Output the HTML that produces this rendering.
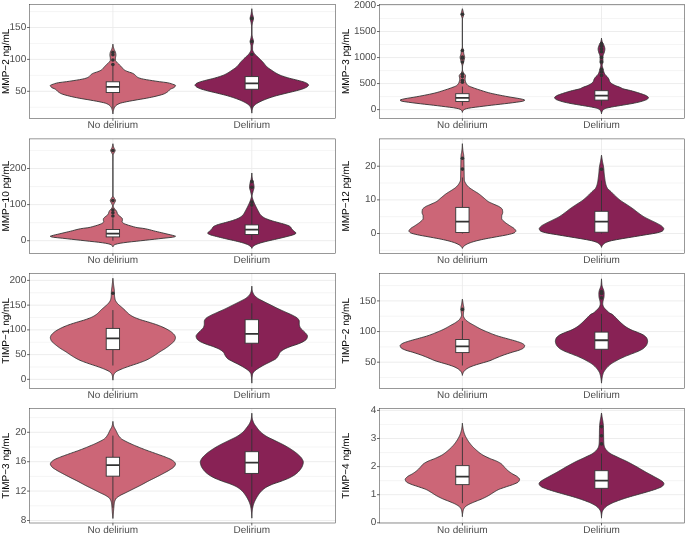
<!DOCTYPE html>
<html lang="en">
<head>
<meta charset="utf-8">
<title>MMP and TIMP levels by delirium status</title>
<style>
html,body{margin:0;padding:0;background:#fff;}
body{width:685px;height:536px;overflow:hidden;}
svg{display:block;font-family:"Liberation Sans",sans-serif;font-size:10px;}
.g{stroke:#EBEBEB;stroke-width:0.9}
.m{stroke:#EBEBEB;stroke-width:0.5}
.v{stroke:#333;stroke-width:0.9;stroke-linejoin:round}
.w{stroke:#333;stroke-width:0.9}
.md{stroke:#333;stroke-width:1.8}
.b{stroke:#333;stroke-width:0.5}
.t{stroke:#333;stroke-width:0.75}
.o{fill:#333}
.a{fill:#4D4D4D}
svg{will-change:transform}
text{text-rendering:geometricPrecision}
</style>
</head>
<body>
<svg width="685" height="536" viewBox="0 0 685 536">
<rect x="0" y="0" width="685" height="536" fill="#ffffff"/>
<!-- panel A -->
<rect x="29.56" y="4.4" width="305.94" height="113.9" fill="#fff"/>
<line class="m" x1="29.56" y1="107.25" x2="335.5" y2="107.25"/>
<line class="m" x1="29.56" y1="75.35" x2="335.5" y2="75.35"/>
<line class="m" x1="29.56" y1="43.45" x2="335.5" y2="43.45"/>
<line class="m" x1="29.56" y1="11.55" x2="335.5" y2="11.55"/>
<line class="g" x1="29.56" y1="91.3" x2="335.5" y2="91.3"/>
<line class="g" x1="29.56" y1="59.4" x2="335.5" y2="59.4"/>
<line class="g" x1="29.56" y1="27.5" x2="335.5" y2="27.5"/>
<line class="g" x1="112.9" y1="4.4" x2="112.9" y2="118.3"/>
<line class="g" x1="251.8" y1="4.4" x2="251.8" y2="118.3"/>
<clipPath id="c00"><rect x="29.56" y="4.4" width="305.94" height="113.9"/></clipPath>
<g clip-path="url(#c00)">
<path class="v" d="M112.9 44.18 L112.84 44.68 L112.77 45.18 L112.68 45.68 L112.58 46.18 L112.47 46.68 L112.35 47.18 L112.22 47.68 L112.08 48.18 L111.94 48.68 L111.78 49.18 L111.58 49.68 L111.33 50.18 L111.06 50.68 L110.8 51.18 L110.55 51.68 L110.35 52.18 L110.21 52.68 L110.12 53.18 L110.03 53.68 L109.96 54.18 L109.92 54.68 L109.92 55.18 L109.96 55.68 L110.03 56.18 L110.12 56.68 L110.21 57.18 L110.29 57.68 L110.34 58.18 L110.36 58.68 L110.36 59.18 L110.35 59.68 L110.34 60.18 L110.29 60.68 L110 61.18 L109.53 61.68 L109 62.18 L108.53 62.68 L108.06 63.18 L107.55 63.68 L107.03 64.18 L106.52 64.68 L106.01 65.18 L105.5 65.68 L104.98 66.18 L104.49 66.68 L104.04 67.18 L103.66 67.68 L103.3 68.18 L102.9 68.68 L102.42 69.18 L101.81 69.68 L101.07 70.18 L100.21 70.68 L99.11 71.18 L97.84 71.68 L96.42 72.18 L94.78 72.68 L93.46 73.18 L92.38 73.68 L91.61 74.18 L91.05 74.68 L90.55 75.18 L90.03 75.68 L89.56 76.18 L89.04 76.68 L88.34 77.18 L87.35 77.68 L86.09 78.18 L84.39 78.68 L82.11 79.18 L79.49 79.68 L76.35 80.18 L73.12 80.68 L69.85 81.18 L66.41 81.68 L62.34 82.18 L58.52 82.68 L56.27 83.18 L54.6 83.68 L53.2 84.18 L51.74 84.68 L50.52 85.18 L50.23 85.68 L50.44 86.18 L50.86 86.68 L51.39 87.18 L52.01 87.68 L53.06 88.18 L54.28 88.68 L55.32 89.18 L56.01 89.68 L56.56 90.18 L57.05 90.68 L57.54 91.18 L58.09 91.68 L58.75 92.18 L59.48 92.68 L60.31 93.18 L61.29 93.68 L62.53 94.18 L64.08 94.68 L65.84 95.18 L67.74 95.68 L69.7 96.18 L71.84 96.68 L74.15 97.18 L76.6 97.68 L79.16 98.18 L81.92 98.68 L84.9 99.18 L87.91 99.68 L90.77 100.18 L93.61 100.68 L96.39 101.18 L98.97 101.68 L101.31 102.18 L103.57 102.68 L105.47 103.18 L106.76 103.68 L107.79 104.18 L108.66 104.68 L109.37 105.18 L109.92 105.68 L110.38 106.18 L110.78 106.68 L111.13 107.18 L111.43 107.68 L111.68 108.18 L111.86 108.68 L112.02 109.18 L112.17 109.68 L112.32 110.18 L112.45 110.68 L112.57 111.18 L112.67 111.68 L112.76 112.18 L112.83 112.68 L112.87 113.18 L112.9 113.68 L112.9 113.88 L112.9 113.88 L112.9 113.68 L112.93 113.18 L112.97 112.68 L113.04 112.18 L113.13 111.68 L113.23 111.18 L113.35 110.68 L113.48 110.18 L113.63 109.68 L113.78 109.18 L113.94 108.68 L114.12 108.18 L114.37 107.68 L114.67 107.18 L115.02 106.68 L115.42 106.18 L115.88 105.68 L116.43 105.18 L117.14 104.68 L118.01 104.18 L119.04 103.68 L120.33 103.18 L122.23 102.68 L124.49 102.18 L126.83 101.68 L129.41 101.18 L132.19 100.68 L135.03 100.18 L137.89 99.68 L140.9 99.18 L143.88 98.68 L146.64 98.18 L149.2 97.68 L151.65 97.18 L153.96 96.68 L156.1 96.18 L158.06 95.68 L159.96 95.18 L161.72 94.68 L163.27 94.18 L164.51 93.68 L165.49 93.18 L166.32 92.68 L167.05 92.18 L167.71 91.68 L168.26 91.18 L168.75 90.68 L169.24 90.18 L169.79 89.68 L170.48 89.18 L171.52 88.68 L172.74 88.18 L173.79 87.68 L174.41 87.18 L174.94 86.68 L175.36 86.18 L175.57 85.68 L175.28 85.18 L174.06 84.68 L172.6 84.18 L171.2 83.68 L169.53 83.18 L167.28 82.68 L163.46 82.18 L159.39 81.68 L155.95 81.18 L152.68 80.68 L149.45 80.18 L146.31 79.68 L143.69 79.18 L141.41 78.68 L139.71 78.18 L138.45 77.68 L137.46 77.18 L136.76 76.68 L136.24 76.18 L135.77 75.68 L135.25 75.18 L134.75 74.68 L134.19 74.18 L133.42 73.68 L132.34 73.18 L131.02 72.68 L129.38 72.18 L127.96 71.68 L126.69 71.18 L125.59 70.68 L124.73 70.18 L123.99 69.68 L123.38 69.18 L122.9 68.68 L122.5 68.18 L122.14 67.68 L121.76 67.18 L121.31 66.68 L120.82 66.18 L120.3 65.68 L119.79 65.18 L119.28 64.68 L118.77 64.18 L118.25 63.68 L117.74 63.18 L117.27 62.68 L116.8 62.18 L116.27 61.68 L115.8 61.18 L115.51 60.68 L115.46 60.18 L115.45 59.68 L115.44 59.18 L115.44 58.68 L115.46 58.18 L115.51 57.68 L115.59 57.18 L115.68 56.68 L115.77 56.18 L115.84 55.68 L115.88 55.18 L115.88 54.68 L115.84 54.18 L115.77 53.68 L115.68 53.18 L115.59 52.68 L115.45 52.18 L115.25 51.68 L115 51.18 L114.74 50.68 L114.47 50.18 L114.22 49.68 L114.02 49.18 L113.86 48.68 L113.72 48.18 L113.58 47.68 L113.45 47.18 L113.33 46.68 L113.22 46.18 L113.12 45.68 L113.03 45.18 L112.96 44.68 L112.9 44.18 Z" fill="#CC6677"/>
<path class="v" d="M251.8 8.72 L251.76 9.22 L251.72 9.72 L251.67 10.22 L251.61 10.72 L251.55 11.22 L251.48 11.72 L251.42 12.22 L251.34 12.72 L251.27 13.22 L251.19 13.72 L251.09 14.22 L250.97 14.72 L250.83 15.22 L250.68 15.72 L250.53 16.22 L250.4 16.72 L250.29 17.22 L250.21 17.72 L250.16 18.22 L250.17 18.72 L250.22 19.22 L250.31 19.72 L250.43 20.22 L250.57 20.72 L250.72 21.22 L250.86 21.72 L251 22.22 L251.12 22.72 L251.21 23.22 L251.28 23.72 L251.35 24.22 L251.43 24.72 L251.49 25.22 L251.54 25.72 L251.57 26.22 L251.58 26.72 L251.58 27.22 L251.58 27.72 L251.58 28.22 L251.58 28.72 L251.58 29.22 L251.58 29.72 L251.58 30.22 L251.58 30.72 L251.58 31.22 L251.58 31.72 L251.58 32.22 L251.58 32.72 L251.58 33.22 L251.58 33.72 L251.57 34.22 L251.55 34.72 L251.5 35.22 L251.43 35.72 L251.35 36.22 L251.26 36.72 L251.18 37.22 L251.07 37.72 L250.93 38.22 L250.78 38.72 L250.62 39.22 L250.47 39.72 L250.34 40.22 L250.23 40.72 L250.17 41.22 L250.16 41.72 L250.21 42.22 L250.3 42.72 L250.42 43.22 L250.56 43.72 L250.71 44.22 L250.84 44.72 L250.95 45.22 L251.03 45.72 L251.05 46.22 L251.05 46.72 L251.05 47.22 L251.05 47.72 L251.05 48.22 L251.05 48.72 L251.05 49.22 L251.04 49.72 L250.96 50.22 L250.81 50.72 L250.6 51.22 L250.34 51.72 L250.06 52.22 L249.75 52.72 L249.43 53.22 L249.11 53.72 L248.72 54.22 L248.25 54.72 L247.73 55.22 L247.18 55.72 L246.61 56.22 L246.06 56.72 L245.54 57.22 L245.04 57.72 L244.53 58.22 L244.01 58.72 L243.5 59.22 L242.99 59.72 L242.49 60.22 L241.99 60.72 L241.51 61.22 L241.04 61.72 L240.59 62.22 L240.17 62.72 L239.77 63.22 L239.38 63.72 L238.99 64.22 L238.6 64.72 L238.19 65.22 L237.76 65.72 L237.29 66.22 L236.8 66.72 L236.25 67.22 L235.63 67.72 L234.95 68.22 L234.24 68.72 L233.49 69.22 L232.74 69.72 L231.99 70.22 L231.27 70.72 L230.56 71.22 L229.83 71.72 L229.03 72.22 L228.23 72.72 L227.39 73.22 L226.5 73.72 L225.55 74.22 L224.53 74.72 L223.41 75.22 L222.15 75.72 L220.75 76.22 L219.24 76.72 L217.64 77.22 L215.96 77.72 L214.23 78.22 L212.3 78.72 L210.22 79.22 L208.13 79.72 L206.14 80.22 L204.25 80.72 L202.36 81.22 L200.62 81.72 L199.17 82.22 L197.95 82.72 L196.85 83.22 L196.01 83.72 L195.54 84.22 L195.22 84.72 L195.08 85.22 L195.28 85.72 L195.75 86.22 L196.3 86.72 L197.06 87.22 L198.04 87.72 L199.16 88.22 L200.39 88.72 L201.87 89.22 L203.55 89.72 L205.36 90.22 L207.21 90.72 L209.13 91.22 L211.18 91.72 L213.3 92.22 L215.43 92.72 L217.5 93.22 L219.52 93.72 L221.55 94.22 L223.55 94.72 L225.5 95.22 L227.34 95.72 L229.05 96.22 L230.68 96.72 L232.25 97.22 L233.75 97.72 L235.18 98.22 L236.55 98.72 L237.85 99.22 L239.11 99.72 L240.33 100.22 L241.5 100.72 L242.61 101.22 L243.64 101.72 L244.6 102.22 L245.49 102.72 L246.36 103.22 L247.18 103.72 L247.93 104.22 L248.58 104.72 L249.11 105.22 L249.55 105.72 L249.96 106.22 L250.32 106.72 L250.62 107.22 L250.84 107.72 L250.99 108.22 L251.13 108.72 L251.26 109.22 L251.38 109.72 L251.48 110.22 L251.58 110.72 L251.66 111.22 L251.72 111.72 L251.77 112.22 L251.79 112.72 L251.8 113.13 L251.8 113.13 L251.81 112.72 L251.83 112.22 L251.88 111.72 L251.94 111.22 L252.02 110.72 L252.12 110.22 L252.22 109.72 L252.34 109.22 L252.47 108.72 L252.61 108.22 L252.76 107.72 L252.98 107.22 L253.28 106.72 L253.64 106.22 L254.05 105.72 L254.49 105.22 L255.02 104.72 L255.67 104.22 L256.42 103.72 L257.24 103.22 L258.11 102.72 L259 102.22 L259.96 101.72 L260.99 101.22 L262.1 100.72 L263.27 100.22 L264.49 99.72 L265.75 99.22 L267.05 98.72 L268.42 98.22 L269.85 97.72 L271.35 97.22 L272.92 96.72 L274.55 96.22 L276.26 95.72 L278.1 95.22 L280.05 94.72 L282.05 94.22 L284.08 93.72 L286.1 93.22 L288.17 92.72 L290.3 92.22 L292.42 91.72 L294.47 91.22 L296.39 90.72 L298.24 90.22 L300.05 89.72 L301.73 89.22 L303.21 88.72 L304.44 88.22 L305.56 87.72 L306.54 87.22 L307.3 86.72 L307.85 86.22 L308.32 85.72 L308.52 85.22 L308.38 84.72 L308.06 84.22 L307.59 83.72 L306.75 83.22 L305.65 82.72 L304.43 82.22 L302.98 81.72 L301.24 81.22 L299.35 80.72 L297.46 80.22 L295.47 79.72 L293.38 79.22 L291.3 78.72 L289.37 78.22 L287.64 77.72 L285.96 77.22 L284.36 76.72 L282.85 76.22 L281.45 75.72 L280.19 75.22 L279.07 74.72 L278.05 74.22 L277.1 73.72 L276.21 73.22 L275.37 72.72 L274.57 72.22 L273.77 71.72 L273.04 71.22 L272.33 70.72 L271.61 70.22 L270.86 69.72 L270.11 69.22 L269.36 68.72 L268.65 68.22 L267.97 67.72 L267.35 67.22 L266.8 66.72 L266.31 66.22 L265.84 65.72 L265.41 65.22 L265 64.72 L264.61 64.22 L264.22 63.72 L263.83 63.22 L263.43 62.72 L263.01 62.22 L262.56 61.72 L262.09 61.22 L261.61 60.72 L261.11 60.22 L260.61 59.72 L260.1 59.22 L259.59 58.72 L259.07 58.22 L258.56 57.72 L258.06 57.22 L257.54 56.72 L256.99 56.22 L256.42 55.72 L255.87 55.22 L255.35 54.72 L254.88 54.22 L254.49 53.72 L254.17 53.22 L253.85 52.72 L253.54 52.22 L253.26 51.72 L253 51.22 L252.79 50.72 L252.64 50.22 L252.56 49.72 L252.55 49.22 L252.55 48.72 L252.55 48.22 L252.55 47.72 L252.55 47.22 L252.55 46.72 L252.55 46.22 L252.57 45.72 L252.65 45.22 L252.76 44.72 L252.89 44.22 L253.04 43.72 L253.18 43.22 L253.3 42.72 L253.39 42.22 L253.44 41.72 L253.43 41.22 L253.37 40.72 L253.26 40.22 L253.13 39.72 L252.98 39.22 L252.82 38.72 L252.67 38.22 L252.53 37.72 L252.42 37.22 L252.34 36.72 L252.25 36.22 L252.17 35.72 L252.1 35.22 L252.05 34.72 L252.03 34.22 L252.02 33.72 L252.02 33.22 L252.02 32.72 L252.02 32.22 L252.02 31.72 L252.02 31.22 L252.02 30.72 L252.02 30.22 L252.02 29.72 L252.02 29.22 L252.02 28.72 L252.02 28.22 L252.02 27.72 L252.02 27.22 L252.02 26.72 L252.03 26.22 L252.06 25.72 L252.11 25.22 L252.17 24.72 L252.25 24.22 L252.32 23.72 L252.39 23.22 L252.48 22.72 L252.6 22.22 L252.74 21.72 L252.88 21.22 L253.03 20.72 L253.17 20.22 L253.29 19.72 L253.38 19.22 L253.43 18.72 L253.44 18.22 L253.39 17.72 L253.31 17.22 L253.2 16.72 L253.07 16.22 L252.92 15.72 L252.77 15.22 L252.63 14.72 L252.51 14.22 L252.41 13.72 L252.33 13.22 L252.26 12.72 L252.18 12.22 L252.12 11.72 L252.05 11.22 L251.99 10.72 L251.93 10.22 L251.88 9.72 L251.84 9.22 L251.8 8.72 Z" fill="#882255"/>
<circle class="o" cx="112.9" cy="64.5" r="1.8"/>
<circle class="o" cx="112.9" cy="60" r="1.8"/>
<circle class="o" cx="112.9" cy="54.7" r="1.8"/>
<circle class="o" cx="112.9" cy="52.4" r="1.8"/>
<line class="w" x1="112.9" y1="65.5" x2="112.9" y2="81.8"/>
<line class="w" x1="112.9" y1="92.5" x2="112.9" y2="108.5"/>
<rect class="w" x="106.22" y="81.8" width="13.35" height="10.7" fill="#fff"/>
<line class="md" x1="106.22" y1="86.9" x2="119.58" y2="86.9"/>
<circle class="o" cx="251.8" cy="54.5" r="1.8"/>
<circle class="o" cx="251.8" cy="41.55" r="1.8"/>
<circle class="o" cx="251.8" cy="18.4" r="1.8"/>
<line class="w" x1="251.8" y1="57.5" x2="251.8" y2="76.6"/>
<line class="w" x1="251.8" y1="89.25" x2="251.8" y2="108"/>
<rect class="w" x="245.12" y="76.6" width="13.35" height="12.65" fill="#fff"/>
<line class="md" x1="245.12" y1="83.3" x2="258.48" y2="83.3"/>
</g>
<rect class="b" x="29.56" y="4.4" width="305.94" height="113.9" fill="none"/>
<line class="t" x1="27.06" y1="91.3" x2="29.56" y2="91.3"/>
<text class="a" x="26.26" y="93.9" text-anchor="end">50</text>
<line class="t" x1="27.06" y1="59.4" x2="29.56" y2="59.4"/>
<text class="a" x="26.26" y="62" text-anchor="end">100</text>
<line class="t" x1="27.06" y1="27.5" x2="29.56" y2="27.5"/>
<text class="a" x="26.26" y="30.1" text-anchor="end">150</text>
<line class="t" x1="112.9" y1="118.3" x2="112.9" y2="120.8"/>
<text class="a" x="112.9" y="128.2" text-anchor="middle">No delirium</text>
<line class="t" x1="251.8" y1="118.3" x2="251.8" y2="120.8"/>
<text class="a" x="251.8" y="128.2" text-anchor="middle">Delirium</text>
<text transform="translate(8.9 61.35) rotate(-90)" text-anchor="middle" fill="#000">MMP−2 ng/mL</text>
<!-- panel B -->
<rect x="379.5" y="4.4" width="305.1" height="113.9" fill="#fff"/>
<line class="m" x1="379.5" y1="96.59" x2="684.6" y2="96.59"/>
<line class="m" x1="379.5" y1="70.56" x2="684.6" y2="70.56"/>
<line class="m" x1="379.5" y1="44.54" x2="684.6" y2="44.54"/>
<line class="m" x1="379.5" y1="18.51" x2="684.6" y2="18.51"/>
<line class="g" x1="379.5" y1="109.6" x2="684.6" y2="109.6"/>
<line class="g" x1="379.5" y1="83.57" x2="684.6" y2="83.57"/>
<line class="g" x1="379.5" y1="57.55" x2="684.6" y2="57.55"/>
<line class="g" x1="379.5" y1="31.52" x2="684.6" y2="31.52"/>
<line class="g" x1="379.5" y1="5.5" x2="684.6" y2="5.5"/>
<line class="g" x1="462.4" y1="4.4" x2="462.4" y2="118.3"/>
<line class="g" x1="601.5" y1="4.4" x2="601.5" y2="118.3"/>
<clipPath id="c01"><rect x="379.5" y="4.4" width="305.1" height="113.9"/></clipPath>
<g clip-path="url(#c01)">
<path class="v" d="M462.4 8.72 L462.26 9.22 L462.12 9.72 L461.98 10.22 L461.85 10.72 L461.73 11.22 L461.61 11.72 L461.49 12.22 L461.35 12.72 L461.21 13.22 L461.1 13.72 L461.06 14.22 L461.1 14.72 L461.21 15.22 L461.36 15.72 L461.53 16.22 L461.68 16.72 L461.87 17.22 L462.08 17.72 L462.25 18.22 L462.33 18.72 L462.33 19.22 L462.33 19.72 L462.33 20.22 L462.34 20.72 L462.34 21.22 L462.34 21.72 L462.34 22.22 L462.34 22.72 L462.35 23.22 L462.35 23.72 L462.35 24.22 L462.35 24.72 L462.35 25.22 L462.35 25.72 L462.35 26.22 L462.35 26.72 L462.35 27.22 L462.35 27.72 L462.35 28.22 L462.35 28.72 L462.35 29.22 L462.35 29.72 L462.36 30.22 L462.36 30.72 L462.36 31.22 L462.36 31.72 L462.36 32.22 L462.36 32.72 L462.36 33.22 L462.35 33.72 L462.35 34.22 L462.35 34.72 L462.35 35.22 L462.35 35.72 L462.35 36.22 L462.35 36.72 L462.35 37.22 L462.35 37.72 L462.35 38.22 L462.35 38.72 L462.35 39.22 L462.35 39.72 L462.35 40.22 L462.35 40.72 L462.35 41.22 L462.34 41.72 L462.34 42.22 L462.34 42.72 L462.34 43.22 L462.34 43.72 L462.34 44.22 L462.33 44.72 L462.33 45.22 L462.33 45.72 L462.33 46.22 L462.33 46.72 L462.29 47.22 L462.19 47.72 L462.05 48.22 L461.88 48.72 L461.7 49.22 L461.54 49.72 L461.41 50.22 L461.33 50.72 L461.27 51.22 L461.23 51.72 L461.19 52.22 L461.14 52.72 L461.09 53.22 L461.02 53.72 L460.9 54.22 L460.75 54.72 L460.59 55.22 L460.43 55.72 L460.29 56.22 L460.2 56.72 L460.16 57.22 L460.18 57.72 L460.25 58.22 L460.34 58.72 L460.46 59.22 L460.59 59.72 L460.72 60.22 L460.85 60.72 L460.97 61.22 L461.1 61.72 L461.25 62.22 L461.4 62.72 L461.55 63.22 L461.7 63.72 L461.83 64.22 L461.96 64.72 L462.09 65.22 L462.21 65.72 L462.25 66.22 L462.26 66.72 L462.27 67.22 L462.28 67.72 L462.29 68.22 L462.29 68.72 L462.29 69.22 L462.3 69.72 L462.27 70.22 L462.18 70.72 L462.03 71.22 L461.84 71.72 L461.64 72.22 L461.42 72.72 L461.08 73.22 L460.65 73.72 L460.18 74.22 L459.76 74.72 L459.43 75.22 L459.27 75.72 L459.28 76.22 L459.35 76.72 L459.44 77.22 L459.54 77.72 L459.63 78.22 L459.7 78.72 L459.71 79.22 L459.68 79.72 L459.61 80.22 L459.51 80.72 L459.38 81.22 L459.24 81.72 L459.08 82.22 L458.9 82.72 L458.67 83.22 L458.38 83.72 L458.01 84.22 L457.58 84.72 L457.07 85.22 L456.47 85.72 L455.53 86.22 L454.32 86.72 L452.97 87.22 L451.62 87.72 L450.28 88.22 L448.86 88.72 L447.38 89.22 L445.85 89.72 L444.3 90.22 L442.74 90.72 L441.18 91.22 L439.59 91.72 L437.91 92.22 L436.11 92.72 L434.16 93.22 L431.98 93.72 L429.63 94.22 L427.18 94.72 L424.68 95.22 L422.12 95.72 L419.46 96.22 L416.71 96.72 L413.89 97.22 L410.81 97.72 L407.68 98.22 L404.94 98.72 L402.48 99.22 L400.72 99.72 L400.02 100.22 L400.72 100.72 L402.07 101.22 L404.87 101.72 L408.49 102.22 L412.1 102.72 L416.07 103.22 L420.27 103.72 L424.58 104.22 L429.12 104.72 L433.53 105.22 L437.66 105.72 L441.64 106.22 L445.53 106.72 L449.56 107.22 L453.31 107.72 L456.15 108.22 L458.5 108.72 L459.95 109.22 L460.86 109.72 L461.47 110.22 L461.82 110.72 L462.09 111.22 L462.29 111.72 L462.39 112.22 L462.4 112.39 L462.4 112.39 L462.41 112.22 L462.51 111.72 L462.71 111.22 L462.98 110.72 L463.33 110.22 L463.94 109.72 L464.85 109.22 L466.3 108.72 L468.65 108.22 L471.49 107.72 L475.24 107.22 L479.27 106.72 L483.16 106.22 L487.14 105.72 L491.27 105.22 L495.68 104.72 L500.22 104.22 L504.53 103.72 L508.73 103.22 L512.7 102.72 L516.31 102.22 L519.93 101.72 L522.73 101.22 L524.08 100.72 L524.78 100.22 L524.08 99.72 L522.32 99.22 L519.86 98.72 L517.12 98.22 L513.99 97.72 L510.91 97.22 L508.09 96.72 L505.34 96.22 L502.68 95.72 L500.12 95.22 L497.62 94.72 L495.17 94.22 L492.82 93.72 L490.64 93.22 L488.69 92.72 L486.89 92.22 L485.21 91.72 L483.62 91.22 L482.06 90.72 L480.5 90.22 L478.95 89.72 L477.42 89.22 L475.94 88.72 L474.52 88.22 L473.18 87.72 L471.83 87.22 L470.48 86.72 L469.27 86.22 L468.33 85.72 L467.73 85.22 L467.22 84.72 L466.79 84.22 L466.42 83.72 L466.13 83.22 L465.9 82.72 L465.72 82.22 L465.56 81.72 L465.42 81.22 L465.29 80.72 L465.19 80.22 L465.12 79.72 L465.09 79.22 L465.1 78.72 L465.17 78.22 L465.26 77.72 L465.36 77.22 L465.45 76.72 L465.52 76.22 L465.53 75.72 L465.37 75.22 L465.04 74.72 L464.62 74.22 L464.15 73.72 L463.72 73.22 L463.38 72.72 L463.16 72.22 L462.96 71.72 L462.77 71.22 L462.62 70.72 L462.53 70.22 L462.5 69.72 L462.51 69.22 L462.51 68.72 L462.51 68.22 L462.52 67.72 L462.53 67.22 L462.54 66.72 L462.55 66.22 L462.59 65.72 L462.71 65.22 L462.84 64.72 L462.97 64.22 L463.1 63.72 L463.25 63.22 L463.4 62.72 L463.55 62.22 L463.7 61.72 L463.83 61.22 L463.95 60.72 L464.08 60.22 L464.21 59.72 L464.34 59.22 L464.46 58.72 L464.55 58.22 L464.62 57.72 L464.64 57.22 L464.6 56.72 L464.51 56.22 L464.37 55.72 L464.21 55.22 L464.05 54.72 L463.9 54.22 L463.78 53.72 L463.71 53.22 L463.66 52.72 L463.61 52.22 L463.57 51.72 L463.53 51.22 L463.47 50.72 L463.39 50.22 L463.26 49.72 L463.1 49.22 L462.92 48.72 L462.75 48.22 L462.61 47.72 L462.51 47.22 L462.47 46.72 L462.47 46.22 L462.47 45.72 L462.47 45.22 L462.47 44.72 L462.46 44.22 L462.46 43.72 L462.46 43.22 L462.46 42.72 L462.46 42.22 L462.46 41.72 L462.45 41.22 L462.45 40.72 L462.45 40.22 L462.45 39.72 L462.45 39.22 L462.45 38.72 L462.45 38.22 L462.45 37.72 L462.45 37.22 L462.45 36.72 L462.45 36.22 L462.45 35.72 L462.45 35.22 L462.45 34.72 L462.45 34.22 L462.45 33.72 L462.44 33.22 L462.44 32.72 L462.44 32.22 L462.44 31.72 L462.44 31.22 L462.44 30.72 L462.44 30.22 L462.45 29.72 L462.45 29.22 L462.45 28.72 L462.45 28.22 L462.45 27.72 L462.45 27.22 L462.45 26.72 L462.45 26.22 L462.45 25.72 L462.45 25.22 L462.45 24.72 L462.45 24.22 L462.45 23.72 L462.45 23.22 L462.46 22.72 L462.46 22.22 L462.46 21.72 L462.46 21.22 L462.46 20.72 L462.47 20.22 L462.47 19.72 L462.47 19.22 L462.47 18.72 L462.55 18.22 L462.72 17.72 L462.93 17.22 L463.12 16.72 L463.27 16.22 L463.44 15.72 L463.59 15.22 L463.7 14.72 L463.74 14.22 L463.7 13.72 L463.59 13.22 L463.45 12.72 L463.31 12.22 L463.19 11.72 L463.07 11.22 L462.95 10.72 L462.82 10.22 L462.68 9.72 L462.54 9.22 L462.4 8.72 Z" fill="#CC6677"/>
<path class="v" d="M601.5 38.06 L601.48 38.56 L601.42 39.06 L601.35 39.56 L601.25 40.06 L601.14 40.56 L601.01 41.06 L600.88 41.56 L600.73 42.06 L600.51 42.56 L600.24 43.06 L599.94 43.56 L599.65 44.06 L599.38 44.56 L599.17 45.06 L598.99 45.56 L598.81 46.06 L598.64 46.56 L598.48 47.06 L598.34 47.56 L598.23 48.06 L598.16 48.56 L598.14 49.06 L598.16 49.56 L598.21 50.06 L598.29 50.56 L598.39 51.06 L598.5 51.56 L598.62 52.06 L598.75 52.56 L598.93 53.06 L599.16 53.56 L599.41 54.06 L599.63 54.56 L599.79 55.06 L599.89 55.56 L599.97 56.06 L600.05 56.56 L600.11 57.06 L600.15 57.56 L600.16 58.06 L600.15 58.56 L600.14 59.06 L600.12 59.56 L600.1 60.06 L600.08 60.56 L600.06 61.06 L600.05 61.56 L600.05 62.06 L600.12 62.56 L600.26 63.06 L600.43 63.56 L600.6 64.06 L600.74 64.56 L600.82 65.06 L600.82 65.56 L600.75 66.06 L600.65 66.56 L600.51 67.06 L600.36 67.56 L600.2 68.06 L600.06 68.56 L599.94 69.06 L599.82 69.56 L599.7 70.06 L599.57 70.56 L599.44 71.06 L599.29 71.56 L599.12 72.06 L598.94 72.56 L598.73 73.06 L598.5 73.56 L598.24 74.06 L597.95 74.56 L597.6 75.06 L597.11 75.56 L596.55 76.06 L596 76.56 L595.54 77.06 L595.16 77.56 L594.8 78.06 L594.48 78.56 L594.21 79.06 L593.99 79.56 L593.83 80.06 L593.69 80.56 L593.52 81.06 L593.3 81.56 L592.96 82.06 L592.5 82.56 L591.96 83.06 L591.33 83.56 L590.63 84.06 L589.74 84.56 L588.71 85.06 L587.59 85.56 L586.44 86.06 L585.08 86.56 L583.63 87.06 L582.35 87.56 L581.5 88.06 L580.63 88.56 L579.06 89.06 L576.97 89.56 L574.68 90.06 L572.5 90.56 L570.65 91.06 L568.89 91.56 L567.18 92.06 L565.53 92.56 L563.96 93.06 L562.46 93.56 L560.94 94.06 L559.47 94.56 L558.14 95.06 L557.06 95.56 L556.2 96.06 L555.38 96.56 L554.8 97.06 L554.64 97.56 L554.78 98.06 L555.08 98.56 L555.48 99.06 L556.27 99.56 L557.47 100.06 L558.88 100.56 L560.36 101.06 L562.07 101.56 L564.03 102.06 L566.18 102.56 L568.48 103.06 L570.99 103.56 L573.82 104.06 L576.81 104.56 L579.81 105.06 L582.76 105.56 L585.8 106.06 L588.77 106.56 L591.44 107.06 L594.01 107.56 L596.24 108.06 L597.66 108.56 L598.73 109.06 L599.56 109.56 L600.1 110.06 L600.41 110.56 L600.69 111.06 L600.94 111.56 L601.15 112.06 L601.31 112.56 L601.42 113.06 L601.49 113.56 L601.5 113.88 L601.5 113.88 L601.51 113.56 L601.58 113.06 L601.69 112.56 L601.85 112.06 L602.06 111.56 L602.31 111.06 L602.59 110.56 L602.9 110.06 L603.44 109.56 L604.27 109.06 L605.34 108.56 L606.76 108.06 L608.99 107.56 L611.56 107.06 L614.23 106.56 L617.2 106.06 L620.24 105.56 L623.19 105.06 L626.19 104.56 L629.18 104.06 L632.01 103.56 L634.52 103.06 L636.82 102.56 L638.97 102.06 L640.93 101.56 L642.64 101.06 L644.12 100.56 L645.53 100.06 L646.73 99.56 L647.52 99.06 L647.92 98.56 L648.22 98.06 L648.36 97.56 L648.2 97.06 L647.62 96.56 L646.8 96.06 L645.94 95.56 L644.86 95.06 L643.53 94.56 L642.06 94.06 L640.54 93.56 L639.04 93.06 L637.47 92.56 L635.82 92.06 L634.11 91.56 L632.35 91.06 L630.5 90.56 L628.32 90.06 L626.03 89.56 L623.94 89.06 L622.37 88.56 L621.5 88.06 L620.65 87.56 L619.37 87.06 L617.92 86.56 L616.56 86.06 L615.41 85.56 L614.29 85.06 L613.26 84.56 L612.37 84.06 L611.67 83.56 L611.04 83.06 L610.5 82.56 L610.04 82.06 L609.7 81.56 L609.48 81.06 L609.31 80.56 L609.17 80.06 L609.01 79.56 L608.79 79.06 L608.52 78.56 L608.2 78.06 L607.84 77.56 L607.46 77.06 L607 76.56 L606.45 76.06 L605.89 75.56 L605.4 75.06 L605.05 74.56 L604.76 74.06 L604.5 73.56 L604.27 73.06 L604.06 72.56 L603.88 72.06 L603.71 71.56 L603.56 71.06 L603.43 70.56 L603.3 70.06 L603.18 69.56 L603.06 69.06 L602.94 68.56 L602.8 68.06 L602.64 67.56 L602.49 67.06 L602.35 66.56 L602.25 66.06 L602.18 65.56 L602.18 65.06 L602.26 64.56 L602.4 64.06 L602.57 63.56 L602.74 63.06 L602.88 62.56 L602.95 62.06 L602.95 61.56 L602.94 61.06 L602.92 60.56 L602.9 60.06 L602.88 59.56 L602.86 59.06 L602.85 58.56 L602.84 58.06 L602.85 57.56 L602.89 57.06 L602.95 56.56 L603.03 56.06 L603.11 55.56 L603.21 55.06 L603.37 54.56 L603.59 54.06 L603.84 53.56 L604.07 53.06 L604.25 52.56 L604.38 52.06 L604.5 51.56 L604.61 51.06 L604.71 50.56 L604.79 50.06 L604.84 49.56 L604.86 49.06 L604.84 48.56 L604.77 48.06 L604.66 47.56 L604.52 47.06 L604.36 46.56 L604.19 46.06 L604.01 45.56 L603.83 45.06 L603.62 44.56 L603.35 44.06 L603.06 43.56 L602.76 43.06 L602.49 42.56 L602.27 42.06 L602.12 41.56 L601.99 41.06 L601.86 40.56 L601.75 40.06 L601.65 39.56 L601.58 39.06 L601.52 38.56 L601.5 38.06 Z" fill="#882255"/>
<circle class="o" cx="462.4" cy="14.2" r="1.8"/>
<circle class="o" cx="462.4" cy="50.5" r="1.8"/>
<circle class="o" cx="462.4" cy="57" r="1.8"/>
<circle class="o" cx="462.4" cy="58.2" r="1.8"/>
<circle class="o" cx="462.4" cy="62" r="1.8"/>
<circle class="o" cx="462.4" cy="74" r="1.8"/>
<circle class="o" cx="462.4" cy="76.6" r="1.8"/>
<circle class="o" cx="462.4" cy="80.4" r="1.8"/>
<circle class="o" cx="462.4" cy="82.2" r="1.8"/>
<line class="w" x1="462.4" y1="86.5" x2="462.4" y2="93.7"/>
<line class="w" x1="462.4" y1="101.5" x2="462.4" y2="105.7"/>
<rect class="w" x="455.74" y="93.7" width="13.31" height="7.8" fill="#fff"/>
<line class="md" x1="455.74" y1="97.9" x2="469.06" y2="97.9"/>
<circle class="o" cx="601.5" cy="43.6" r="1.8"/>
<circle class="o" cx="601.5" cy="46.2" r="1.8"/>
<circle class="o" cx="601.5" cy="49" r="1.8"/>
<circle class="o" cx="601.5" cy="51.8" r="1.8"/>
<circle class="o" cx="601.5" cy="57.4" r="1.8"/>
<circle class="o" cx="601.5" cy="61.9" r="1.8"/>
<circle class="o" cx="601.5" cy="69.2" r="1.8"/>
<circle class="o" cx="601.5" cy="72" r="1.8"/>
<circle class="o" cx="601.5" cy="75.4" r="1.8"/>
<line class="w" x1="601.5" y1="77.3" x2="601.5" y2="90.7"/>
<line class="w" x1="601.5" y1="100.1" x2="601.5" y2="105.7"/>
<rect class="w" x="594.84" y="90.7" width="13.31" height="9.4" fill="#fff"/>
<line class="md" x1="594.84" y1="95.7" x2="608.16" y2="95.7"/>
</g>
<rect class="b" x="379.5" y="4.4" width="305.1" height="113.9" fill="none"/>
<line class="t" x1="377" y1="109.6" x2="379.5" y2="109.6"/>
<text class="a" x="376.2" y="112.2" text-anchor="end">0</text>
<line class="t" x1="377" y1="83.57" x2="379.5" y2="83.57"/>
<text class="a" x="376.2" y="86.17" text-anchor="end">500</text>
<line class="t" x1="377" y1="57.55" x2="379.5" y2="57.55"/>
<text class="a" x="376.2" y="60.15" text-anchor="end">1000</text>
<line class="t" x1="377" y1="31.52" x2="379.5" y2="31.52"/>
<text class="a" x="376.2" y="34.12" text-anchor="end">1500</text>
<line class="t" x1="377" y1="5.5" x2="379.5" y2="5.5"/>
<text class="a" x="376.2" y="8.1" text-anchor="end">2000</text>
<line class="t" x1="462.4" y1="118.3" x2="462.4" y2="120.8"/>
<text class="a" x="462.4" y="128.2" text-anchor="middle">No delirium</text>
<line class="t" x1="601.5" y1="118.3" x2="601.5" y2="120.8"/>
<text class="a" x="601.5" y="128.2" text-anchor="middle">Delirium</text>
<text transform="translate(349.4 61.35) rotate(-90)" text-anchor="middle" fill="#000">MMP−3 pg/mL</text>
<!-- panel C -->
<rect x="29.56" y="138.9" width="305.94" height="114.5" fill="#fff"/>
<line class="m" x1="29.56" y1="222.65" x2="335.5" y2="222.65"/>
<line class="m" x1="29.56" y1="186.55" x2="335.5" y2="186.55"/>
<line class="m" x1="29.56" y1="150.45" x2="335.5" y2="150.45"/>
<line class="g" x1="29.56" y1="240.7" x2="335.5" y2="240.7"/>
<line class="g" x1="29.56" y1="204.6" x2="335.5" y2="204.6"/>
<line class="g" x1="29.56" y1="168.5" x2="335.5" y2="168.5"/>
<line class="g" x1="112.9" y1="138.9" x2="112.9" y2="253.4"/>
<line class="g" x1="251.8" y1="138.9" x2="251.8" y2="253.4"/>
<clipPath id="c10"><rect x="29.56" y="138.9" width="305.94" height="114.5"/></clipPath>
<g clip-path="url(#c10)">
<path class="v" d="M112.9 143.76 L112.84 144.26 L112.76 144.76 L112.66 145.26 L112.55 145.76 L112.42 146.26 L112.27 146.76 L112.12 147.26 L111.96 147.76 L111.72 148.26 L111.41 148.76 L111.1 149.26 L110.83 149.76 L110.68 150.26 L110.69 150.76 L110.85 151.26 L111.11 151.76 L111.42 152.26 L111.73 152.76 L111.98 153.26 L112.2 153.76 L112.43 154.26 L112.63 154.76 L112.78 155.26 L112.83 155.76 L112.83 156.26 L112.83 156.76 L112.83 157.26 L112.83 157.76 L112.84 158.26 L112.84 158.76 L112.84 159.26 L112.84 159.76 L112.84 160.26 L112.84 160.76 L112.84 161.26 L112.85 161.76 L112.85 162.26 L112.85 162.76 L112.85 163.26 L112.85 163.76 L112.85 164.26 L112.85 164.76 L112.85 165.26 L112.85 165.76 L112.85 166.26 L112.85 166.76 L112.85 167.26 L112.85 167.76 L112.85 168.26 L112.85 168.76 L112.85 169.26 L112.85 169.76 L112.85 170.26 L112.85 170.76 L112.86 171.26 L112.86 171.76 L112.86 172.26 L112.86 172.76 L112.86 173.26 L112.86 173.76 L112.86 174.26 L112.86 174.76 L112.86 175.26 L112.86 175.76 L112.86 176.26 L112.86 176.76 L112.86 177.26 L112.86 177.76 L112.86 178.26 L112.86 178.76 L112.86 179.26 L112.86 179.76 L112.86 180.26 L112.86 180.76 L112.86 181.26 L112.86 181.76 L112.86 182.26 L112.86 182.76 L112.86 183.26 L112.86 183.76 L112.86 184.26 L112.86 184.76 L112.86 185.26 L112.86 185.76 L112.86 186.26 L112.86 186.76 L112.86 187.26 L112.86 187.76 L112.86 188.26 L112.86 188.76 L112.86 189.26 L112.86 189.76 L112.86 190.26 L112.86 190.76 L112.86 191.26 L112.86 191.76 L112.86 192.26 L112.86 192.76 L112.85 193.26 L112.85 193.76 L112.85 194.26 L112.84 194.76 L112.83 195.26 L112.79 195.76 L112.62 196.26 L112.35 196.76 L112.04 197.26 L111.77 197.76 L111.47 198.26 L111.13 198.76 L110.79 199.26 L110.5 199.76 L110.32 200.26 L110.3 200.76 L110.43 201.26 L110.67 201.76 L110.97 202.26 L111.27 202.76 L111.53 203.26 L111.75 203.76 L112 204.26 L112.23 204.76 L112.42 205.26 L112.52 205.76 L112.5 206.26 L112.39 206.76 L112.21 207.26 L111.99 207.76 L111.74 208.26 L111.34 208.76 L110.81 209.26 L110.3 209.76 L109.91 210.26 L109.57 210.76 L109.27 211.26 L109.01 211.76 L108.81 212.26 L108.67 212.76 L108.53 213.26 L108.37 213.76 L108.13 214.26 L107.71 214.76 L107.14 215.26 L106.57 215.76 L105.93 216.26 L105.27 216.76 L104.7 217.26 L104.14 217.76 L103.67 218.26 L103.47 218.76 L103.4 219.26 L103.36 219.76 L103.36 220.26 L103.5 220.76 L103.67 221.26 L103.7 221.76 L103.45 222.26 L102.98 222.76 L102.4 223.26 L101.42 223.76 L100.14 224.26 L98.8 224.76 L97.32 225.26 L95.68 225.76 L93.94 226.26 L92.22 226.76 L90.33 227.26 L87.87 227.76 L83.57 228.26 L80.47 228.76 L78.09 229.26 L76.06 229.76 L74.2 230.26 L72.37 230.76 L70.39 231.26 L68.28 231.76 L66.17 232.26 L64.05 232.76 L61.95 233.26 L59.85 233.76 L57.76 234.26 L55.55 234.76 L53.42 235.26 L51.66 235.76 L50.26 236.26 L51.09 236.76 L53.39 237.26 L57.75 237.76 L62.7 238.26 L67.13 238.76 L71.57 239.26 L76.04 239.76 L80.55 240.26 L85.06 240.76 L89.56 241.26 L94.24 241.76 L98.65 242.26 L102.37 242.76 L105.67 243.26 L108.11 243.76 L110 244.26 L111.28 244.76 L111.88 245.26 L112.37 245.76 L112.71 246.26 L112.89 246.76 L112.9 246.94 L112.9 246.94 L112.91 246.76 L113.09 246.26 L113.43 245.76 L113.92 245.26 L114.52 244.76 L115.8 244.26 L117.69 243.76 L120.13 243.26 L123.43 242.76 L127.15 242.26 L131.56 241.76 L136.24 241.26 L140.74 240.76 L145.25 240.26 L149.76 239.76 L154.23 239.26 L158.67 238.76 L163.1 238.26 L168.05 237.76 L172.41 237.26 L174.71 236.76 L175.54 236.26 L174.14 235.76 L172.38 235.26 L170.25 234.76 L168.04 234.26 L165.95 233.76 L163.85 233.26 L161.75 232.76 L159.63 232.26 L157.52 231.76 L155.41 231.26 L153.43 230.76 L151.6 230.26 L149.74 229.76 L147.71 229.26 L145.33 228.76 L142.23 228.26 L137.93 227.76 L135.47 227.26 L133.58 226.76 L131.86 226.26 L130.12 225.76 L128.48 225.26 L127 224.76 L125.66 224.26 L124.38 223.76 L123.4 223.26 L122.82 222.76 L122.35 222.26 L122.1 221.76 L122.13 221.26 L122.3 220.76 L122.44 220.26 L122.44 219.76 L122.4 219.26 L122.33 218.76 L122.13 218.26 L121.66 217.76 L121.1 217.26 L120.53 216.76 L119.87 216.26 L119.23 215.76 L118.66 215.26 L118.09 214.76 L117.67 214.26 L117.43 213.76 L117.27 213.26 L117.13 212.76 L116.99 212.26 L116.79 211.76 L116.53 211.26 L116.23 210.76 L115.89 210.26 L115.5 209.76 L114.99 209.26 L114.46 208.76 L114.06 208.26 L113.81 207.76 L113.59 207.26 L113.41 206.76 L113.3 206.26 L113.28 205.76 L113.38 205.26 L113.57 204.76 L113.8 204.26 L114.05 203.76 L114.27 203.26 L114.53 202.76 L114.83 202.26 L115.13 201.76 L115.37 201.26 L115.5 200.76 L115.48 200.26 L115.3 199.76 L115.01 199.26 L114.67 198.76 L114.33 198.26 L114.03 197.76 L113.76 197.26 L113.45 196.76 L113.18 196.26 L113.01 195.76 L112.97 195.26 L112.96 194.76 L112.95 194.26 L112.95 193.76 L112.95 193.26 L112.94 192.76 L112.94 192.26 L112.94 191.76 L112.94 191.26 L112.94 190.76 L112.94 190.26 L112.94 189.76 L112.94 189.26 L112.94 188.76 L112.94 188.26 L112.94 187.76 L112.94 187.26 L112.94 186.76 L112.94 186.26 L112.94 185.76 L112.94 185.26 L112.94 184.76 L112.94 184.26 L112.94 183.76 L112.94 183.26 L112.94 182.76 L112.94 182.26 L112.94 181.76 L112.94 181.26 L112.94 180.76 L112.94 180.26 L112.94 179.76 L112.94 179.26 L112.94 178.76 L112.94 178.26 L112.94 177.76 L112.94 177.26 L112.94 176.76 L112.94 176.26 L112.94 175.76 L112.94 175.26 L112.94 174.76 L112.94 174.26 L112.94 173.76 L112.94 173.26 L112.94 172.76 L112.94 172.26 L112.94 171.76 L112.94 171.26 L112.95 170.76 L112.95 170.26 L112.95 169.76 L112.95 169.26 L112.95 168.76 L112.95 168.26 L112.95 167.76 L112.95 167.26 L112.95 166.76 L112.95 166.26 L112.95 165.76 L112.95 165.26 L112.95 164.76 L112.95 164.26 L112.95 163.76 L112.95 163.26 L112.95 162.76 L112.95 162.26 L112.95 161.76 L112.96 161.26 L112.96 160.76 L112.96 160.26 L112.96 159.76 L112.96 159.26 L112.96 158.76 L112.96 158.26 L112.97 157.76 L112.97 157.26 L112.97 156.76 L112.97 156.26 L112.97 155.76 L113.02 155.26 L113.17 154.76 L113.37 154.26 L113.6 153.76 L113.82 153.26 L114.07 152.76 L114.38 152.26 L114.69 151.76 L114.95 151.26 L115.11 150.76 L115.12 150.26 L114.97 149.76 L114.7 149.26 L114.39 148.76 L114.08 148.26 L113.84 147.76 L113.68 147.26 L113.53 146.76 L113.38 146.26 L113.25 145.76 L113.14 145.26 L113.04 144.76 L112.96 144.26 L112.9 143.76 Z" fill="#CC6677"/>
<path class="v" d="M251.8 172.99 L251.79 173.49 L251.78 173.99 L251.75 174.49 L251.71 174.99 L251.67 175.49 L251.61 175.99 L251.55 176.49 L251.49 176.99 L251.42 177.49 L251.35 177.99 L251.27 178.49 L251.2 178.99 L251.1 179.49 L250.96 179.99 L250.81 180.49 L250.64 180.99 L250.47 181.49 L250.32 181.99 L250.2 182.49 L250.1 182.99 L250.01 183.49 L249.92 183.99 L249.83 184.49 L249.75 184.99 L249.68 185.49 L249.62 185.99 L249.58 186.49 L249.56 186.99 L249.57 187.49 L249.63 187.99 L249.72 188.49 L249.84 188.99 L249.99 189.49 L250.14 189.99 L250.3 190.49 L250.44 190.99 L250.57 191.49 L250.68 191.99 L250.81 192.49 L250.94 192.99 L251.07 193.49 L251.2 193.99 L251.31 194.49 L251.4 194.99 L251.47 195.49 L251.5 195.99 L251.49 196.49 L251.43 196.99 L251.32 197.49 L251.19 197.99 L251.04 198.49 L250.88 198.99 L250.72 199.49 L250.56 199.99 L250.4 200.49 L250.22 200.99 L250.02 201.49 L249.81 201.99 L249.59 202.49 L249.38 202.99 L249.16 203.49 L248.93 203.99 L248.71 204.49 L248.47 204.99 L248.23 205.49 L247.98 205.99 L247.74 206.49 L247.49 206.99 L247.24 207.49 L246.99 207.99 L246.73 208.49 L246.48 208.99 L246.22 209.49 L245.96 209.99 L245.69 210.49 L245.42 210.99 L245.14 211.49 L244.88 211.99 L244.62 212.49 L244.34 212.99 L244.05 213.49 L243.73 213.99 L243.37 214.49 L242.97 214.99 L242.49 215.49 L241.94 215.99 L241.32 216.49 L240.63 216.99 L239.86 217.49 L239.01 217.99 L237.98 218.49 L236.78 218.99 L235.46 219.49 L234.04 219.99 L232.59 220.49 L231 220.99 L229.24 221.49 L227.4 221.99 L225.54 222.49 L223.74 222.99 L221.92 223.49 L220.05 223.99 L218.32 224.49 L216.87 224.99 L215.6 225.49 L214.46 225.99 L213.58 226.49 L213.04 226.99 L212.68 227.49 L212.4 227.99 L212.12 228.49 L211.78 228.99 L211.33 229.49 L210.83 229.99 L210.3 230.49 L209.77 230.99 L209.23 231.49 L208.58 231.99 L207.98 232.49 L207.64 232.99 L207.81 233.49 L208.58 233.99 L209.58 234.49 L210.88 234.99 L212.63 235.49 L214.59 235.99 L216.53 236.49 L218.47 236.99 L220.51 237.49 L222.6 237.99 L224.72 238.49 L226.85 238.99 L229.04 239.49 L231.3 239.99 L233.55 240.49 L235.72 240.99 L237.73 241.49 L239.68 241.99 L241.55 242.49 L243.28 242.99 L244.78 243.49 L246.16 243.99 L247.43 244.49 L248.49 244.99 L249.26 245.49 L249.92 245.99 L250.53 246.49 L251.05 246.99 L251.47 247.49 L251.73 247.99 L251.8 248.36 L251.8 248.36 L251.87 247.99 L252.13 247.49 L252.55 246.99 L253.07 246.49 L253.68 245.99 L254.34 245.49 L255.11 244.99 L256.17 244.49 L257.44 243.99 L258.82 243.49 L260.32 242.99 L262.05 242.49 L263.92 241.99 L265.87 241.49 L267.88 240.99 L270.05 240.49 L272.3 239.99 L274.56 239.49 L276.75 238.99 L278.88 238.49 L281 237.99 L283.09 237.49 L285.13 236.99 L287.07 236.49 L289.01 235.99 L290.97 235.49 L292.72 234.99 L294.02 234.49 L295.02 233.99 L295.79 233.49 L295.96 232.99 L295.62 232.49 L295.02 231.99 L294.37 231.49 L293.83 230.99 L293.3 230.49 L292.77 229.99 L292.27 229.49 L291.82 228.99 L291.48 228.49 L291.2 227.99 L290.92 227.49 L290.56 226.99 L290.02 226.49 L289.14 225.99 L288 225.49 L286.73 224.99 L285.28 224.49 L283.55 223.99 L281.68 223.49 L279.86 222.99 L278.06 222.49 L276.2 221.99 L274.36 221.49 L272.6 220.99 L271.01 220.49 L269.56 219.99 L268.14 219.49 L266.82 218.99 L265.62 218.49 L264.59 217.99 L263.74 217.49 L262.97 216.99 L262.28 216.49 L261.66 215.99 L261.11 215.49 L260.63 214.99 L260.23 214.49 L259.87 213.99 L259.55 213.49 L259.26 212.99 L258.98 212.49 L258.72 211.99 L258.46 211.49 L258.18 210.99 L257.91 210.49 L257.64 209.99 L257.38 209.49 L257.12 208.99 L256.87 208.49 L256.61 207.99 L256.36 207.49 L256.11 206.99 L255.86 206.49 L255.62 205.99 L255.37 205.49 L255.13 204.99 L254.89 204.49 L254.67 203.99 L254.44 203.49 L254.22 202.99 L254.01 202.49 L253.79 201.99 L253.58 201.49 L253.38 200.99 L253.2 200.49 L253.04 199.99 L252.88 199.49 L252.72 198.99 L252.56 198.49 L252.41 197.99 L252.28 197.49 L252.17 196.99 L252.11 196.49 L252.1 195.99 L252.13 195.49 L252.2 194.99 L252.29 194.49 L252.4 193.99 L252.53 193.49 L252.66 192.99 L252.79 192.49 L252.92 191.99 L253.03 191.49 L253.16 190.99 L253.3 190.49 L253.46 189.99 L253.61 189.49 L253.76 188.99 L253.88 188.49 L253.97 187.99 L254.03 187.49 L254.04 186.99 L254.02 186.49 L253.98 185.99 L253.92 185.49 L253.85 184.99 L253.77 184.49 L253.68 183.99 L253.59 183.49 L253.5 182.99 L253.4 182.49 L253.28 181.99 L253.13 181.49 L252.96 180.99 L252.79 180.49 L252.64 179.99 L252.5 179.49 L252.4 178.99 L252.33 178.49 L252.25 177.99 L252.18 177.49 L252.11 176.99 L252.05 176.49 L251.99 175.99 L251.93 175.49 L251.89 174.99 L251.85 174.49 L251.82 173.99 L251.81 173.49 L251.8 172.99 Z" fill="#882255"/>
<circle class="o" cx="112.9" cy="150.5" r="1.8"/>
<circle class="o" cx="112.9" cy="200.6" r="1.8"/>
<circle class="o" cx="112.9" cy="210" r="1.8"/>
<circle class="o" cx="112.9" cy="212.7" r="1.8"/>
<circle class="o" cx="112.9" cy="216" r="1.8"/>
<line class="w" x1="112.9" y1="218.3" x2="112.9" y2="229.5"/>
<line class="w" x1="112.9" y1="236.9" x2="112.9" y2="240.7"/>
<rect class="w" x="106.22" y="229.5" width="13.35" height="7.4" fill="#fff"/>
<line class="md" x1="106.22" y1="233.7" x2="119.58" y2="233.7"/>
<circle class="o" cx="251.8" cy="181.6" r="1.8"/>
<circle class="o" cx="251.8" cy="187.2" r="1.8"/>
<circle class="o" cx="251.8" cy="202.1" r="1.8"/>
<circle class="o" cx="251.8" cy="205.1" r="1.8"/>
<line class="w" x1="251.8" y1="207.3" x2="251.8" y2="224.9"/>
<line class="w" x1="251.8" y1="234.5" x2="251.8" y2="240.1"/>
<rect class="w" x="245.12" y="224.9" width="13.35" height="9.6" fill="#fff"/>
<line class="md" x1="245.12" y1="229.7" x2="258.48" y2="229.7"/>
</g>
<rect class="b" x="29.56" y="138.9" width="305.94" height="114.5" fill="none"/>
<line class="t" x1="27.06" y1="240.7" x2="29.56" y2="240.7"/>
<text class="a" x="26.26" y="243.3" text-anchor="end">0</text>
<line class="t" x1="27.06" y1="204.6" x2="29.56" y2="204.6"/>
<text class="a" x="26.26" y="207.2" text-anchor="end">100</text>
<line class="t" x1="27.06" y1="168.5" x2="29.56" y2="168.5"/>
<text class="a" x="26.26" y="171.1" text-anchor="end">200</text>
<line class="t" x1="112.9" y1="253.4" x2="112.9" y2="255.9"/>
<text class="a" x="112.9" y="263.3" text-anchor="middle">No delirium</text>
<line class="t" x1="251.8" y1="253.4" x2="251.8" y2="255.9"/>
<text class="a" x="251.8" y="263.3" text-anchor="middle">Delirium</text>
<text transform="translate(8.9 196.15) rotate(-90)" text-anchor="middle" fill="#000">MMP−10 pg/mL</text>
<!-- panel D -->
<rect x="379.5" y="138.9" width="305.1" height="114.5" fill="#fff"/>
<line class="m" x1="379.5" y1="250.32" x2="684.6" y2="250.32"/>
<line class="m" x1="379.5" y1="216.68" x2="684.6" y2="216.68"/>
<line class="m" x1="379.5" y1="183.04" x2="684.6" y2="183.04"/>
<line class="m" x1="379.5" y1="149.4" x2="684.6" y2="149.4"/>
<line class="g" x1="379.5" y1="233.5" x2="684.6" y2="233.5"/>
<line class="g" x1="379.5" y1="199.86" x2="684.6" y2="199.86"/>
<line class="g" x1="379.5" y1="166.22" x2="684.6" y2="166.22"/>
<line class="g" x1="462.4" y1="138.9" x2="462.4" y2="253.4"/>
<line class="g" x1="601.5" y1="138.9" x2="601.5" y2="253.4"/>
<clipPath id="c11"><rect x="379.5" y="138.9" width="305.1" height="114.5"/></clipPath>
<g clip-path="url(#c11)">
<path class="v" d="M462.4 143.73 L462.38 144.23 L462.36 144.73 L462.34 145.23 L462.31 145.73 L462.28 146.23 L462.24 146.73 L462.21 147.23 L462.17 147.73 L462.13 148.23 L462.09 148.73 L462.03 149.23 L461.98 149.73 L461.92 150.23 L461.85 150.73 L461.78 151.23 L461.71 151.73 L461.64 152.23 L461.55 152.73 L461.44 153.23 L461.34 153.73 L461.25 154.23 L461.18 154.73 L461.13 155.23 L461.09 155.73 L461.06 156.23 L461.02 156.73 L461 157.23 L460.97 157.73 L460.95 158.23 L460.94 158.73 L460.92 159.23 L460.91 159.73 L460.9 160.23 L460.89 160.73 L460.88 161.23 L460.87 161.73 L460.87 162.23 L460.86 162.73 L460.85 163.23 L460.84 163.73 L460.83 164.23 L460.82 164.73 L460.81 165.23 L460.8 165.73 L460.79 166.23 L460.78 166.73 L460.77 167.23 L460.76 167.73 L460.75 168.23 L460.74 168.73 L460.73 169.23 L460.72 169.73 L460.71 170.23 L460.7 170.73 L460.69 171.23 L460.68 171.73 L460.67 172.23 L460.66 172.73 L460.65 173.23 L460.64 173.73 L460.63 174.23 L460.62 174.73 L460.61 175.23 L460.6 175.73 L460.59 176.23 L460.58 176.73 L460.57 177.23 L460.55 177.73 L460.54 178.23 L460.53 178.73 L460.51 179.23 L460.49 179.73 L460.46 180.23 L460.38 180.73 L460.23 181.23 L460.03 181.73 L459.79 182.23 L459.52 182.73 L459.25 183.23 L458.97 183.73 L458.64 184.23 L458.28 184.73 L457.88 185.23 L457.45 185.73 L456.99 186.23 L456.5 186.73 L455.99 187.23 L455.42 187.73 L454.76 188.23 L454.03 188.73 L453.27 189.23 L452.49 189.73 L451.72 190.23 L450.95 190.73 L450.15 191.23 L449.32 191.73 L448.49 192.23 L447.68 192.73 L446.9 193.23 L446.18 193.73 L445.49 194.23 L444.84 194.73 L444.21 195.23 L443.59 195.73 L442.99 196.23 L442.39 196.73 L441.79 197.23 L441.18 197.73 L440.59 198.23 L440.03 198.73 L439.48 199.23 L438.94 199.73 L438.37 200.23 L437.75 200.73 L437.08 201.23 L436.32 201.73 L435.4 202.23 L434.37 202.73 L433.25 203.23 L432.11 203.73 L430.98 204.23 L429.87 204.73 L428.67 205.23 L427.47 205.73 L426.37 206.23 L425.47 206.73 L424.75 207.23 L424.05 207.73 L423.42 208.23 L422.9 208.73 L422.54 209.23 L422.38 209.73 L422.3 210.23 L422.23 210.73 L422.17 211.23 L422.13 211.73 L422.11 212.23 L422.11 212.73 L422.19 213.23 L422.36 213.73 L422.58 214.23 L422.8 214.73 L423 215.23 L423.12 215.73 L423.15 216.23 L423.15 216.73 L423.15 217.23 L423.15 217.73 L423.15 218.23 L423.14 218.73 L422.97 219.23 L422.64 219.73 L422.18 220.23 L421.64 220.73 L421.06 221.23 L420.47 221.73 L419.92 222.23 L419.32 222.73 L418.65 223.23 L417.95 223.73 L417.21 224.23 L416.45 224.73 L415.7 225.23 L414.96 225.73 L414.19 226.23 L413.35 226.73 L412.51 227.23 L411.71 227.73 L411.01 228.23 L410.46 228.73 L410 229.23 L409.55 229.73 L409.2 230.23 L408.99 230.73 L409.01 231.23 L409.3 231.73 L409.8 232.23 L410.42 232.73 L411.45 233.23 L413.13 233.73 L415.17 234.23 L417.3 234.73 L419.65 235.23 L422.32 235.73 L425.16 236.23 L427.98 236.73 L430.69 237.23 L433.46 237.73 L436.21 238.23 L438.86 238.73 L441.3 239.23 L443.6 239.73 L445.81 240.23 L447.91 240.73 L449.83 241.23 L451.55 241.73 L453.11 242.23 L454.56 242.73 L455.87 243.23 L457.02 243.73 L458 244.23 L458.91 244.73 L459.72 245.23 L460.41 245.73 L460.94 246.23 L461.39 246.73 L461.79 247.23 L462.12 247.73 L462.34 248.23 L462.4 248.43 L462.4 248.43 L462.46 248.23 L462.68 247.73 L463.01 247.23 L463.41 246.73 L463.86 246.23 L464.39 245.73 L465.08 245.23 L465.89 244.73 L466.8 244.23 L467.78 243.73 L468.93 243.23 L470.24 242.73 L471.69 242.23 L473.25 241.73 L474.97 241.23 L476.89 240.73 L478.99 240.23 L481.2 239.73 L483.5 239.23 L485.94 238.73 L488.59 238.23 L491.34 237.73 L494.11 237.23 L496.82 236.73 L499.64 236.23 L502.48 235.73 L505.15 235.23 L507.5 234.73 L509.63 234.23 L511.67 233.73 L513.35 233.23 L514.38 232.73 L515 232.23 L515.5 231.73 L515.79 231.23 L515.81 230.73 L515.6 230.23 L515.25 229.73 L514.8 229.23 L514.34 228.73 L513.79 228.23 L513.09 227.73 L512.29 227.23 L511.45 226.73 L510.61 226.23 L509.84 225.73 L509.1 225.23 L508.35 224.73 L507.59 224.23 L506.85 223.73 L506.15 223.23 L505.48 222.73 L504.88 222.23 L504.33 221.73 L503.74 221.23 L503.16 220.73 L502.62 220.23 L502.16 219.73 L501.83 219.23 L501.66 218.73 L501.65 218.23 L501.65 217.73 L501.65 217.23 L501.65 216.73 L501.65 216.23 L501.68 215.73 L501.8 215.23 L502 214.73 L502.22 214.23 L502.44 213.73 L502.61 213.23 L502.69 212.73 L502.69 212.23 L502.67 211.73 L502.63 211.23 L502.57 210.73 L502.5 210.23 L502.42 209.73 L502.26 209.23 L501.9 208.73 L501.38 208.23 L500.75 207.73 L500.05 207.23 L499.33 206.73 L498.43 206.23 L497.33 205.73 L496.13 205.23 L494.93 204.73 L493.82 204.23 L492.69 203.73 L491.55 203.23 L490.43 202.73 L489.4 202.23 L488.48 201.73 L487.72 201.23 L487.05 200.73 L486.43 200.23 L485.86 199.73 L485.32 199.23 L484.77 198.73 L484.21 198.23 L483.62 197.73 L483.01 197.23 L482.41 196.73 L481.81 196.23 L481.21 195.73 L480.59 195.23 L479.96 194.73 L479.31 194.23 L478.62 193.73 L477.9 193.23 L477.12 192.73 L476.31 192.23 L475.48 191.73 L474.65 191.23 L473.85 190.73 L473.08 190.23 L472.31 189.73 L471.53 189.23 L470.77 188.73 L470.04 188.23 L469.38 187.73 L468.81 187.23 L468.3 186.73 L467.81 186.23 L467.35 185.73 L466.92 185.23 L466.52 184.73 L466.16 184.23 L465.83 183.73 L465.55 183.23 L465.28 182.73 L465.01 182.23 L464.77 181.73 L464.57 181.23 L464.42 180.73 L464.34 180.23 L464.31 179.73 L464.29 179.23 L464.27 178.73 L464.26 178.23 L464.25 177.73 L464.23 177.23 L464.22 176.73 L464.21 176.23 L464.2 175.73 L464.19 175.23 L464.18 174.73 L464.17 174.23 L464.16 173.73 L464.15 173.23 L464.14 172.73 L464.13 172.23 L464.12 171.73 L464.11 171.23 L464.1 170.73 L464.09 170.23 L464.08 169.73 L464.07 169.23 L464.06 168.73 L464.05 168.23 L464.04 167.73 L464.03 167.23 L464.02 166.73 L464.01 166.23 L464 165.73 L463.99 165.23 L463.98 164.73 L463.97 164.23 L463.96 163.73 L463.95 163.23 L463.94 162.73 L463.93 162.23 L463.93 161.73 L463.92 161.23 L463.91 160.73 L463.9 160.23 L463.89 159.73 L463.88 159.23 L463.86 158.73 L463.85 158.23 L463.83 157.73 L463.8 157.23 L463.78 156.73 L463.74 156.23 L463.71 155.73 L463.67 155.23 L463.62 154.73 L463.55 154.23 L463.46 153.73 L463.36 153.23 L463.25 152.73 L463.16 152.23 L463.09 151.73 L463.02 151.23 L462.95 150.73 L462.88 150.23 L462.82 149.73 L462.77 149.23 L462.71 148.73 L462.67 148.23 L462.63 147.73 L462.59 147.23 L462.56 146.73 L462.52 146.23 L462.49 145.73 L462.46 145.23 L462.44 144.73 L462.42 144.23 L462.4 143.73 Z" fill="#CC6677"/>
<path class="v" d="M601.5 155.16 L601.43 155.66 L601.37 156.16 L601.29 156.66 L601.22 157.16 L601.15 157.66 L601.07 158.16 L600.99 158.66 L600.91 159.16 L600.83 159.66 L600.75 160.16 L600.67 160.66 L600.58 161.16 L600.49 161.66 L600.4 162.16 L600.3 162.66 L600.2 163.16 L600.09 163.66 L599.97 164.16 L599.86 164.66 L599.75 165.16 L599.64 165.66 L599.55 166.16 L599.47 166.66 L599.4 167.16 L599.35 167.66 L599.3 168.16 L599.25 168.66 L599.21 169.16 L599.18 169.66 L599.14 170.16 L599.1 170.66 L599.06 171.16 L599.02 171.66 L598.98 172.16 L598.93 172.66 L598.88 173.16 L598.82 173.66 L598.76 174.16 L598.71 174.66 L598.64 175.16 L598.58 175.66 L598.52 176.16 L598.46 176.66 L598.4 177.16 L598.34 177.66 L598.28 178.16 L598.22 178.66 L598.15 179.16 L598.08 179.66 L598.01 180.16 L597.94 180.66 L597.86 181.16 L597.77 181.66 L597.68 182.16 L597.58 182.66 L597.48 183.16 L597.37 183.66 L597.24 184.16 L597.11 184.66 L596.95 185.16 L596.79 185.66 L596.6 186.16 L596.4 186.66 L596.17 187.16 L595.93 187.66 L595.66 188.16 L595.31 188.66 L594.86 189.16 L594.32 189.66 L593.74 190.16 L593.14 190.66 L592.55 191.16 L592 191.66 L591.5 192.16 L591 192.66 L590.51 193.16 L590.02 193.66 L589.54 194.16 L589.04 194.66 L588.54 195.16 L588.03 195.66 L587.5 196.16 L586.96 196.66 L586.42 197.16 L585.87 197.66 L585.31 198.16 L584.73 198.66 L584.14 199.16 L583.54 199.66 L582.91 200.16 L582.26 200.66 L581.56 201.16 L580.83 201.66 L580.06 202.16 L579.26 202.66 L578.46 203.16 L577.66 203.66 L576.87 204.16 L576.11 204.66 L575.35 205.16 L574.59 205.66 L573.83 206.16 L573.08 206.66 L572.34 207.16 L571.61 207.66 L570.89 208.16 L570.19 208.66 L569.52 209.16 L568.87 209.66 L568.23 210.16 L567.6 210.66 L566.97 211.16 L566.33 211.66 L565.68 212.16 L565.01 212.66 L564.34 213.16 L563.67 213.66 L562.99 214.16 L562.31 214.66 L561.6 215.16 L560.88 215.66 L560.12 216.16 L559.32 216.66 L558.47 217.16 L557.55 217.66 L556.59 218.16 L555.58 218.66 L554.56 219.16 L553.53 219.66 L552.52 220.16 L551.5 220.66 L550.45 221.16 L549.39 221.66 L548.34 222.16 L547.31 222.66 L546.32 223.16 L545.39 223.66 L544.45 224.16 L543.51 224.66 L542.63 225.16 L541.86 225.66 L541.23 226.16 L540.7 226.66 L540.18 227.16 L539.73 227.66 L539.41 228.16 L539.26 228.66 L539.32 229.16 L539.5 229.66 L539.8 230.16 L540.18 230.66 L540.7 231.16 L541.81 231.66 L543.42 232.16 L545.3 232.66 L547.51 233.16 L550.37 233.66 L553.54 234.16 L556.65 234.66 L559.61 235.16 L562.61 235.66 L565.63 236.16 L568.65 236.66 L571.66 237.16 L574.74 237.66 L577.82 238.16 L580.82 238.66 L583.66 239.16 L586.42 239.66 L589.11 240.16 L591.5 240.66 L593.36 241.16 L594.97 241.66 L596.36 242.16 L597.48 242.66 L598.31 243.16 L599.01 243.66 L599.6 244.16 L600.09 244.66 L600.47 245.16 L600.79 245.66 L601.07 246.16 L601.3 246.66 L601.46 247.16 L601.5 247.39 L601.5 247.39 L601.54 247.16 L601.7 246.66 L601.93 246.16 L602.21 245.66 L602.53 245.16 L602.91 244.66 L603.4 244.16 L603.99 243.66 L604.69 243.16 L605.52 242.66 L606.64 242.16 L608.03 241.66 L609.64 241.16 L611.5 240.66 L613.89 240.16 L616.58 239.66 L619.34 239.16 L622.18 238.66 L625.18 238.16 L628.26 237.66 L631.34 237.16 L634.35 236.66 L637.37 236.16 L640.39 235.66 L643.39 235.16 L646.35 234.66 L649.46 234.16 L652.63 233.66 L655.49 233.16 L657.7 232.66 L659.58 232.16 L661.19 231.66 L662.3 231.16 L662.82 230.66 L663.2 230.16 L663.5 229.66 L663.68 229.16 L663.74 228.66 L663.59 228.16 L663.27 227.66 L662.82 227.16 L662.3 226.66 L661.77 226.16 L661.14 225.66 L660.37 225.16 L659.49 224.66 L658.55 224.16 L657.61 223.66 L656.68 223.16 L655.69 222.66 L654.66 222.16 L653.61 221.66 L652.55 221.16 L651.5 220.66 L650.48 220.16 L649.47 219.66 L648.44 219.16 L647.42 218.66 L646.41 218.16 L645.45 217.66 L644.53 217.16 L643.68 216.66 L642.88 216.16 L642.12 215.66 L641.4 215.16 L640.69 214.66 L640.01 214.16 L639.33 213.66 L638.66 213.16 L637.99 212.66 L637.32 212.16 L636.67 211.66 L636.03 211.16 L635.4 210.66 L634.77 210.16 L634.13 209.66 L633.48 209.16 L632.81 208.66 L632.11 208.16 L631.39 207.66 L630.66 207.16 L629.92 206.66 L629.17 206.16 L628.41 205.66 L627.65 205.16 L626.89 204.66 L626.13 204.16 L625.34 203.66 L624.54 203.16 L623.74 202.66 L622.94 202.16 L622.17 201.66 L621.44 201.16 L620.74 200.66 L620.09 200.16 L619.46 199.66 L618.86 199.16 L618.27 198.66 L617.69 198.16 L617.13 197.66 L616.58 197.16 L616.04 196.66 L615.5 196.16 L614.97 195.66 L614.46 195.16 L613.96 194.66 L613.46 194.16 L612.98 193.66 L612.49 193.16 L612 192.66 L611.5 192.16 L611 191.66 L610.45 191.16 L609.86 190.66 L609.26 190.16 L608.68 189.66 L608.14 189.16 L607.69 188.66 L607.34 188.16 L607.07 187.66 L606.83 187.16 L606.6 186.66 L606.4 186.16 L606.21 185.66 L606.05 185.16 L605.89 184.66 L605.76 184.16 L605.63 183.66 L605.52 183.16 L605.42 182.66 L605.32 182.16 L605.23 181.66 L605.14 181.16 L605.06 180.66 L604.99 180.16 L604.92 179.66 L604.85 179.16 L604.78 178.66 L604.72 178.16 L604.66 177.66 L604.6 177.16 L604.54 176.66 L604.48 176.16 L604.42 175.66 L604.36 175.16 L604.29 174.66 L604.24 174.16 L604.18 173.66 L604.12 173.16 L604.07 172.66 L604.02 172.16 L603.98 171.66 L603.94 171.16 L603.9 170.66 L603.86 170.16 L603.82 169.66 L603.79 169.16 L603.75 168.66 L603.7 168.16 L603.65 167.66 L603.6 167.16 L603.53 166.66 L603.45 166.16 L603.36 165.66 L603.25 165.16 L603.14 164.66 L603.03 164.16 L602.91 163.66 L602.8 163.16 L602.7 162.66 L602.6 162.16 L602.51 161.66 L602.42 161.16 L602.33 160.66 L602.25 160.16 L602.17 159.66 L602.09 159.16 L602.01 158.66 L601.93 158.16 L601.85 157.66 L601.78 157.16 L601.71 156.66 L601.63 156.16 L601.57 155.66 L601.5 155.16 Z" fill="#882255"/>
<circle class="o" cx="462.4" cy="158.3" r="1.8"/>
<circle class="o" cx="462.4" cy="169.1" r="1.8"/>
<line class="w" x1="462.4" y1="177.5" x2="462.4" y2="207.4"/>
<line class="w" x1="462.4" y1="232.5" x2="462.4" y2="233.5"/>
<rect class="w" x="455.74" y="207.4" width="13.31" height="25.1" fill="#fff"/>
<line class="md" x1="455.74" y1="221.7" x2="469.06" y2="221.7"/>
<circle class="o" cx="601.5" cy="169.3" r="1.8"/>
<line class="w" x1="601.5" y1="180.5" x2="601.5" y2="211.3"/>
<line class="w" x1="601.5" y1="232.2" x2="601.5" y2="233.5"/>
<rect class="w" x="594.84" y="211.3" width="13.31" height="20.9" fill="#fff"/>
<line class="md" x1="594.84" y1="221.7" x2="608.16" y2="221.7"/>
</g>
<rect class="b" x="379.5" y="138.9" width="305.1" height="114.5" fill="none"/>
<line class="t" x1="377" y1="233.5" x2="379.5" y2="233.5"/>
<text class="a" x="376.2" y="236.1" text-anchor="end">0</text>
<line class="t" x1="377" y1="199.86" x2="379.5" y2="199.86"/>
<text class="a" x="376.2" y="202.46" text-anchor="end">10</text>
<line class="t" x1="377" y1="166.22" x2="379.5" y2="166.22"/>
<text class="a" x="376.2" y="168.82" text-anchor="end">20</text>
<line class="t" x1="462.4" y1="253.4" x2="462.4" y2="255.9"/>
<text class="a" x="462.4" y="263.3" text-anchor="middle">No delirium</text>
<line class="t" x1="601.5" y1="253.4" x2="601.5" y2="255.9"/>
<text class="a" x="601.5" y="263.3" text-anchor="middle">Delirium</text>
<text transform="translate(349.4 196.15) rotate(-90)" text-anchor="middle" fill="#000">MMP−12 pg/mL</text>
<!-- panel E -->
<rect x="29.56" y="273.5" width="305.94" height="114.9" fill="#fff"/>
<line class="m" x1="29.56" y1="366.98" x2="335.5" y2="366.98"/>
<line class="m" x1="29.56" y1="342.24" x2="335.5" y2="342.24"/>
<line class="m" x1="29.56" y1="317.51" x2="335.5" y2="317.51"/>
<line class="m" x1="29.56" y1="292.77" x2="335.5" y2="292.77"/>
<line class="g" x1="29.56" y1="379.35" x2="335.5" y2="379.35"/>
<line class="g" x1="29.56" y1="354.61" x2="335.5" y2="354.61"/>
<line class="g" x1="29.56" y1="329.88" x2="335.5" y2="329.88"/>
<line class="g" x1="29.56" y1="305.14" x2="335.5" y2="305.14"/>
<line class="g" x1="29.56" y1="280.4" x2="335.5" y2="280.4"/>
<line class="g" x1="112.9" y1="273.5" x2="112.9" y2="388.4"/>
<line class="g" x1="251.8" y1="273.5" x2="251.8" y2="388.4"/>
<clipPath id="c20"><rect x="29.56" y="273.5" width="305.94" height="114.9"/></clipPath>
<g clip-path="url(#c20)">
<path class="v" d="M112.9 278.27 L112.85 278.77 L112.81 279.27 L112.76 279.77 L112.71 280.27 L112.66 280.77 L112.61 281.27 L112.55 281.77 L112.5 282.27 L112.45 282.77 L112.39 283.27 L112.34 283.77 L112.28 284.27 L112.23 284.77 L112.17 285.27 L112.11 285.77 L112.05 286.27 L111.98 286.77 L111.91 287.27 L111.83 287.77 L111.76 288.27 L111.68 288.77 L111.61 289.27 L111.55 289.77 L111.5 290.27 L111.45 290.77 L111.41 291.27 L111.39 291.77 L111.37 292.27 L111.36 292.77 L111.34 293.27 L111.33 293.77 L111.32 294.27 L111.31 294.77 L111.29 295.27 L111.26 295.77 L111.23 296.27 L111.18 296.77 L111.12 297.27 L111.05 297.77 L110.96 298.27 L110.86 298.77 L110.75 299.27 L110.62 299.77 L110.44 300.27 L110.2 300.77 L109.92 301.27 L109.59 301.77 L109.24 302.27 L108.87 302.77 L108.48 303.27 L108.06 303.77 L107.57 304.27 L107.03 304.77 L106.46 305.27 L105.86 305.77 L105.27 306.27 L104.7 306.77 L104.14 307.27 L103.56 307.77 L102.98 308.27 L102.4 308.77 L101.83 309.27 L101.27 309.77 L100.74 310.27 L100.24 310.77 L99.77 311.27 L99.31 311.77 L98.84 312.27 L98.36 312.77 L97.83 313.27 L97.26 313.77 L96.63 314.27 L95.95 314.77 L95.21 315.27 L94.42 315.77 L93.57 316.27 L92.65 316.77 L91.62 317.27 L90.47 317.77 L89.23 318.27 L87.9 318.77 L86.52 319.27 L85.09 319.77 L83.55 320.27 L81.87 320.77 L80.13 321.27 L78.39 321.77 L76.71 322.27 L75.13 322.77 L73.55 323.27 L71.99 323.77 L70.47 324.27 L69.02 324.77 L67.65 325.27 L66.36 325.77 L65.12 326.27 L63.93 326.77 L62.78 327.27 L61.69 327.77 L60.67 328.27 L59.7 328.77 L58.78 329.27 L57.88 329.77 L57.01 330.27 L56.19 330.77 L55.42 331.27 L54.72 331.77 L54.08 332.27 L53.51 332.77 L52.95 333.27 L52.42 333.77 L51.94 334.27 L51.51 334.77 L51.17 335.27 L50.92 335.77 L50.7 336.27 L50.51 336.77 L50.39 337.27 L50.37 337.77 L50.42 338.27 L50.54 338.77 L50.7 339.27 L50.89 339.77 L51.11 340.27 L51.34 340.77 L51.68 341.27 L52.12 341.77 L52.64 342.27 L53.21 342.77 L53.8 343.27 L54.39 343.77 L54.96 344.27 L55.55 344.77 L56.16 345.27 L56.79 345.77 L57.44 346.27 L58.11 346.77 L58.8 347.27 L59.5 347.77 L60.22 348.27 L60.98 348.77 L61.77 349.27 L62.59 349.77 L63.41 350.27 L64.24 350.77 L65.06 351.27 L65.85 351.77 L66.61 352.27 L67.36 352.77 L68.09 353.27 L68.81 353.77 L69.54 354.27 L70.27 354.77 L71.03 355.27 L71.8 355.77 L72.6 356.27 L73.42 356.77 L74.25 357.27 L75.1 357.77 L75.97 358.27 L76.87 358.77 L77.82 359.27 L78.83 359.77 L79.91 360.27 L81.08 360.77 L82.33 361.27 L83.65 361.77 L85.02 362.27 L86.41 362.77 L87.81 363.27 L89.23 363.77 L90.73 364.27 L92.26 364.77 L93.81 365.27 L95.34 365.77 L96.81 366.27 L98.21 366.77 L99.61 367.27 L100.98 367.77 L102.3 368.27 L103.56 368.77 L104.72 369.27 L105.86 369.77 L106.98 370.27 L108.04 370.77 L108.97 371.27 L109.71 371.77 L110.27 372.27 L110.77 372.77 L111.21 373.27 L111.59 373.77 L111.9 374.27 L112.11 374.77 L112.24 375.27 L112.36 375.77 L112.47 376.27 L112.56 376.77 L112.65 377.27 L112.73 377.77 L112.79 378.27 L112.84 378.77 L112.88 379.27 L112.9 379.77 L112.9 380.15 L112.9 380.15 L112.9 379.77 L112.92 379.27 L112.96 378.77 L113.01 378.27 L113.07 377.77 L113.15 377.27 L113.24 376.77 L113.33 376.27 L113.44 375.77 L113.56 375.27 L113.69 374.77 L113.9 374.27 L114.21 373.77 L114.59 373.27 L115.03 372.77 L115.53 372.27 L116.09 371.77 L116.83 371.27 L117.76 370.77 L118.82 370.27 L119.94 369.77 L121.08 369.27 L122.24 368.77 L123.5 368.27 L124.82 367.77 L126.19 367.27 L127.59 366.77 L128.99 366.27 L130.46 365.77 L131.99 365.27 L133.54 364.77 L135.07 364.27 L136.57 363.77 L137.99 363.27 L139.39 362.77 L140.78 362.27 L142.15 361.77 L143.47 361.27 L144.72 360.77 L145.89 360.27 L146.97 359.77 L147.98 359.27 L148.93 358.77 L149.83 358.27 L150.7 357.77 L151.55 357.27 L152.38 356.77 L153.2 356.27 L154 355.77 L154.77 355.27 L155.53 354.77 L156.26 354.27 L156.99 353.77 L157.71 353.27 L158.44 352.77 L159.19 352.27 L159.95 351.77 L160.74 351.27 L161.56 350.77 L162.39 350.27 L163.21 349.77 L164.03 349.27 L164.82 348.77 L165.58 348.27 L166.3 347.77 L167 347.27 L167.69 346.77 L168.36 346.27 L169.01 345.77 L169.64 345.27 L170.25 344.77 L170.84 344.27 L171.41 343.77 L172 343.27 L172.59 342.77 L173.16 342.27 L173.68 341.77 L174.12 341.27 L174.46 340.77 L174.69 340.27 L174.91 339.77 L175.1 339.27 L175.26 338.77 L175.38 338.27 L175.43 337.77 L175.41 337.27 L175.29 336.77 L175.1 336.27 L174.88 335.77 L174.63 335.27 L174.29 334.77 L173.86 334.27 L173.38 333.77 L172.85 333.27 L172.29 332.77 L171.72 332.27 L171.08 331.77 L170.38 331.27 L169.61 330.77 L168.79 330.27 L167.92 329.77 L167.02 329.27 L166.1 328.77 L165.13 328.27 L164.11 327.77 L163.02 327.27 L161.87 326.77 L160.68 326.27 L159.44 325.77 L158.15 325.27 L156.78 324.77 L155.33 324.27 L153.81 323.77 L152.25 323.27 L150.67 322.77 L149.09 322.27 L147.41 321.77 L145.67 321.27 L143.93 320.77 L142.25 320.27 L140.71 319.77 L139.28 319.27 L137.9 318.77 L136.57 318.27 L135.33 317.77 L134.18 317.27 L133.15 316.77 L132.23 316.27 L131.38 315.77 L130.59 315.27 L129.85 314.77 L129.17 314.27 L128.54 313.77 L127.97 313.27 L127.44 312.77 L126.96 312.27 L126.49 311.77 L126.03 311.27 L125.56 310.77 L125.06 310.27 L124.53 309.77 L123.97 309.27 L123.4 308.77 L122.82 308.27 L122.24 307.77 L121.66 307.27 L121.1 306.77 L120.53 306.27 L119.94 305.77 L119.34 305.27 L118.77 304.77 L118.23 304.27 L117.74 303.77 L117.32 303.27 L116.93 302.77 L116.56 302.27 L116.21 301.77 L115.88 301.27 L115.6 300.77 L115.36 300.27 L115.18 299.77 L115.05 299.27 L114.94 298.77 L114.84 298.27 L114.75 297.77 L114.68 297.27 L114.62 296.77 L114.57 296.27 L114.54 295.77 L114.51 295.27 L114.49 294.77 L114.48 294.27 L114.47 293.77 L114.46 293.27 L114.44 292.77 L114.43 292.27 L114.41 291.77 L114.39 291.27 L114.35 290.77 L114.3 290.27 L114.25 289.77 L114.19 289.27 L114.12 288.77 L114.04 288.27 L113.97 287.77 L113.89 287.27 L113.82 286.77 L113.75 286.27 L113.69 285.77 L113.63 285.27 L113.57 284.77 L113.52 284.27 L113.46 283.77 L113.41 283.27 L113.35 282.77 L113.3 282.27 L113.25 281.77 L113.19 281.27 L113.14 280.77 L113.09 280.27 L113.04 279.77 L112.99 279.27 L112.95 278.77 L112.9 278.27 Z" fill="#CC6677"/>
<path class="v" d="M251.8 286.18 L251.79 286.68 L251.77 287.18 L251.74 287.68 L251.69 288.18 L251.64 288.68 L251.57 289.18 L251.5 289.68 L251.43 290.18 L251.35 290.68 L251.25 291.18 L251.11 291.68 L250.93 292.18 L250.73 292.68 L250.5 293.18 L250.25 293.68 L249.98 294.18 L249.68 294.68 L249.32 295.18 L248.89 295.68 L248.41 296.18 L247.88 296.68 L247.3 297.18 L246.69 297.68 L246.05 298.18 L245.32 298.68 L244.47 299.18 L243.55 299.68 L242.57 300.18 L241.58 300.68 L240.59 301.18 L239.63 301.68 L238.65 302.18 L237.66 302.68 L236.65 303.18 L235.64 303.68 L234.62 304.18 L233.61 304.68 L232.61 305.18 L231.61 305.68 L230.63 306.18 L229.64 306.68 L228.66 307.18 L227.66 307.68 L226.65 308.18 L225.62 308.68 L224.57 309.18 L223.48 309.68 L222.37 310.18 L221.25 310.68 L220.13 311.18 L219.01 311.68 L217.9 312.18 L216.79 312.68 L215.65 313.18 L214.51 313.68 L213.38 314.18 L212.28 314.68 L211.25 315.18 L210.29 315.68 L209.37 316.18 L208.44 316.68 L207.56 317.18 L206.78 317.68 L206.14 318.18 L205.69 318.68 L205.29 319.18 L204.92 319.68 L204.62 320.18 L204.42 320.68 L204.34 321.18 L204.34 321.68 L204.34 322.18 L204.34 322.68 L204.34 323.18 L204.34 323.68 L204.34 324.18 L204.31 324.68 L204.23 325.18 L204.11 325.68 L203.95 326.18 L203.77 326.68 L203.59 327.18 L203.33 327.68 L202.97 328.18 L202.53 328.68 L202.04 329.18 L201.52 329.68 L201.01 330.18 L200.53 330.68 L200.03 331.18 L199.49 331.68 L198.94 332.18 L198.42 332.68 L197.95 333.18 L197.55 333.68 L197.16 334.18 L196.77 334.68 L196.43 335.18 L196.2 335.68 L196.13 336.18 L196.17 336.68 L196.27 337.18 L196.42 337.68 L196.61 338.18 L196.82 338.68 L197.1 339.18 L197.56 339.68 L198.16 340.18 L198.86 340.68 L199.61 341.18 L200.42 341.68 L201.39 342.18 L202.49 342.68 L203.69 343.18 L204.94 343.68 L206.22 344.18 L207.64 344.68 L209.18 345.18 L210.74 345.68 L212.24 346.18 L213.58 346.68 L214.85 347.18 L216.1 347.68 L217.28 348.18 L218.38 348.68 L219.37 349.18 L220.21 349.68 L220.99 350.18 L221.72 350.68 L222.38 351.18 L222.96 351.68 L223.45 352.18 L223.84 352.68 L224.14 353.18 L224.38 353.68 L224.59 354.18 L224.8 354.68 L225.04 355.18 L225.33 355.68 L225.63 356.18 L225.95 356.68 L226.3 357.18 L226.7 357.68 L227.14 358.18 L227.66 358.68 L228.35 359.18 L229.19 359.68 L230.12 360.18 L231.11 360.68 L232.1 361.18 L233.05 361.68 L234.03 362.18 L235.05 362.68 L236.08 363.18 L237.11 363.68 L238.1 364.18 L239.04 364.68 L239.97 365.18 L240.88 365.68 L241.77 366.18 L242.64 366.68 L243.48 367.18 L244.28 367.68 L245.05 368.18 L245.83 368.68 L246.59 369.18 L247.32 369.68 L248 370.18 L248.6 370.68 L249.1 371.18 L249.54 371.68 L249.96 372.18 L250.34 372.68 L250.67 373.18 L250.91 373.68 L251.05 374.18 L251.14 374.68 L251.21 375.18 L251.29 375.68 L251.35 376.18 L251.42 376.68 L251.47 377.18 L251.53 377.68 L251.58 378.18 L251.62 378.68 L251.66 379.18 L251.69 379.68 L251.72 380.18 L251.75 380.68 L251.77 381.18 L251.78 381.68 L251.79 382.18 L251.8 382.68 L251.8 383.13 L251.8 383.13 L251.8 382.68 L251.81 382.18 L251.82 381.68 L251.83 381.18 L251.85 380.68 L251.88 380.18 L251.91 379.68 L251.94 379.18 L251.98 378.68 L252.02 378.18 L252.07 377.68 L252.13 377.18 L252.18 376.68 L252.25 376.18 L252.31 375.68 L252.39 375.18 L252.46 374.68 L252.55 374.18 L252.69 373.68 L252.93 373.18 L253.26 372.68 L253.64 372.18 L254.06 371.68 L254.5 371.18 L255 370.68 L255.6 370.18 L256.28 369.68 L257.01 369.18 L257.77 368.68 L258.55 368.18 L259.32 367.68 L260.12 367.18 L260.96 366.68 L261.83 366.18 L262.72 365.68 L263.63 365.18 L264.56 364.68 L265.5 364.18 L266.49 363.68 L267.52 363.18 L268.55 362.68 L269.57 362.18 L270.55 361.68 L271.5 361.18 L272.49 360.68 L273.48 360.18 L274.41 359.68 L275.25 359.18 L275.94 358.68 L276.46 358.18 L276.9 357.68 L277.3 357.18 L277.65 356.68 L277.97 356.18 L278.27 355.68 L278.56 355.18 L278.8 354.68 L279.01 354.18 L279.22 353.68 L279.46 353.18 L279.76 352.68 L280.15 352.18 L280.64 351.68 L281.22 351.18 L281.88 350.68 L282.61 350.18 L283.39 349.68 L284.23 349.18 L285.22 348.68 L286.32 348.18 L287.5 347.68 L288.75 347.18 L290.02 346.68 L291.36 346.18 L292.86 345.68 L294.42 345.18 L295.96 344.68 L297.38 344.18 L298.66 343.68 L299.91 343.18 L301.11 342.68 L302.21 342.18 L303.18 341.68 L303.99 341.18 L304.74 340.68 L305.44 340.18 L306.04 339.68 L306.5 339.18 L306.78 338.68 L306.99 338.18 L307.18 337.68 L307.33 337.18 L307.43 336.68 L307.47 336.18 L307.4 335.68 L307.17 335.18 L306.83 334.68 L306.44 334.18 L306.05 333.68 L305.65 333.18 L305.18 332.68 L304.66 332.18 L304.11 331.68 L303.57 331.18 L303.07 330.68 L302.59 330.18 L302.08 329.68 L301.56 329.18 L301.07 328.68 L300.63 328.18 L300.27 327.68 L300.01 327.18 L299.83 326.68 L299.65 326.18 L299.49 325.68 L299.37 325.18 L299.29 324.68 L299.26 324.18 L299.26 323.68 L299.26 323.18 L299.26 322.68 L299.26 322.18 L299.26 321.68 L299.26 321.18 L299.18 320.68 L298.98 320.18 L298.68 319.68 L298.31 319.18 L297.91 318.68 L297.46 318.18 L296.82 317.68 L296.04 317.18 L295.16 316.68 L294.23 316.18 L293.31 315.68 L292.35 315.18 L291.32 314.68 L290.22 314.18 L289.09 313.68 L287.95 313.18 L286.81 312.68 L285.7 312.18 L284.59 311.68 L283.47 311.18 L282.35 310.68 L281.23 310.18 L280.12 309.68 L279.03 309.18 L277.98 308.68 L276.95 308.18 L275.94 307.68 L274.94 307.18 L273.96 306.68 L272.97 306.18 L271.99 305.68 L270.99 305.18 L269.99 304.68 L268.98 304.18 L267.96 303.68 L266.95 303.18 L265.94 302.68 L264.95 302.18 L263.97 301.68 L263.01 301.18 L262.02 300.68 L261.03 300.18 L260.05 299.68 L259.13 299.18 L258.28 298.68 L257.55 298.18 L256.91 297.68 L256.3 297.18 L255.72 296.68 L255.19 296.18 L254.71 295.68 L254.28 295.18 L253.92 294.68 L253.62 294.18 L253.35 293.68 L253.1 293.18 L252.87 292.68 L252.67 292.18 L252.49 291.68 L252.35 291.18 L252.25 290.68 L252.17 290.18 L252.1 289.68 L252.03 289.18 L251.96 288.68 L251.91 288.18 L251.86 287.68 L251.83 287.18 L251.81 286.68 L251.8 286.18 Z" fill="#882255"/>
<circle class="o" cx="112.9" cy="293.3" r="1.8"/>
<line class="w" x1="112.9" y1="310.1" x2="112.9" y2="328.4"/>
<line class="w" x1="112.9" y1="349.6" x2="112.9" y2="365.5"/>
<rect class="w" x="106.22" y="328.4" width="13.35" height="21.2" fill="#fff"/>
<line class="md" x1="106.22" y1="338.3" x2="119.58" y2="338.3"/>
<line class="w" x1="251.8" y1="303.3" x2="251.8" y2="319.7"/>
<line class="w" x1="251.8" y1="343.2" x2="251.8" y2="366.7"/>
<rect class="w" x="245.12" y="319.7" width="13.35" height="23.5" fill="#fff"/>
<line class="md" x1="245.12" y1="333.8" x2="258.48" y2="333.8"/>
</g>
<rect class="b" x="29.56" y="273.5" width="305.94" height="114.9" fill="none"/>
<line class="t" x1="27.06" y1="379.35" x2="29.56" y2="379.35"/>
<text class="a" x="26.26" y="381.95" text-anchor="end">0</text>
<line class="t" x1="27.06" y1="354.61" x2="29.56" y2="354.61"/>
<text class="a" x="26.26" y="357.21" text-anchor="end">50</text>
<line class="t" x1="27.06" y1="329.88" x2="29.56" y2="329.88"/>
<text class="a" x="26.26" y="332.48" text-anchor="end">100</text>
<line class="t" x1="27.06" y1="305.14" x2="29.56" y2="305.14"/>
<text class="a" x="26.26" y="307.74" text-anchor="end">150</text>
<line class="t" x1="27.06" y1="280.4" x2="29.56" y2="280.4"/>
<text class="a" x="26.26" y="283" text-anchor="end">200</text>
<line class="t" x1="112.9" y1="388.4" x2="112.9" y2="390.9"/>
<text class="a" x="112.9" y="398.3" text-anchor="middle">No delirium</text>
<line class="t" x1="251.8" y1="388.4" x2="251.8" y2="390.9"/>
<text class="a" x="251.8" y="398.3" text-anchor="middle">Delirium</text>
<text transform="translate(8.9 330.95) rotate(-90)" text-anchor="middle" fill="#000">TIMP−1 ng/mL</text>
<!-- panel F -->
<rect x="379.5" y="273.5" width="305.1" height="114.9" fill="#fff"/>
<line class="m" x1="379.5" y1="377.52" x2="684.6" y2="377.52"/>
<line class="m" x1="379.5" y1="346.88" x2="684.6" y2="346.88"/>
<line class="m" x1="379.5" y1="316.22" x2="684.6" y2="316.22"/>
<line class="m" x1="379.5" y1="285.57" x2="684.6" y2="285.57"/>
<line class="g" x1="379.5" y1="362.2" x2="684.6" y2="362.2"/>
<line class="g" x1="379.5" y1="331.55" x2="684.6" y2="331.55"/>
<line class="g" x1="379.5" y1="300.9" x2="684.6" y2="300.9"/>
<line class="g" x1="462.4" y1="273.5" x2="462.4" y2="388.4"/>
<line class="g" x1="601.5" y1="273.5" x2="601.5" y2="388.4"/>
<clipPath id="c21"><rect x="379.5" y="273.5" width="305.1" height="114.9"/></clipPath>
<g clip-path="url(#c21)">
<path class="v" d="M462.4 299.16 L462.33 299.66 L462.25 300.16 L462.18 300.66 L462.11 301.16 L462.03 301.66 L461.95 302.16 L461.88 302.66 L461.8 303.16 L461.72 303.66 L461.64 304.16 L461.55 304.66 L461.45 305.16 L461.34 305.66 L461.23 306.16 L461.12 306.66 L461.03 307.16 L460.96 307.66 L460.92 308.16 L460.91 308.66 L460.92 309.16 L460.95 309.66 L460.99 310.16 L461.05 310.66 L461.11 311.16 L461.17 311.66 L461.24 312.16 L461.3 312.66 L461.36 313.16 L461.42 313.66 L461.46 314.16 L461.49 314.66 L461.5 315.16 L461.48 315.66 L461.38 316.16 L461.2 316.66 L460.98 317.16 L460.71 317.66 L460.41 318.16 L460.09 318.66 L459.76 319.16 L459.35 319.66 L458.85 320.16 L458.27 320.66 L457.63 321.16 L456.94 321.66 L456.23 322.16 L455.5 322.66 L454.74 323.16 L453.9 323.66 L452.99 324.16 L452.06 324.66 L451.13 325.16 L450.24 325.66 L449.37 326.16 L448.51 326.66 L447.64 327.16 L446.76 327.66 L445.85 328.16 L444.91 328.66 L443.92 329.16 L442.88 329.66 L441.8 330.16 L440.67 330.66 L439.51 331.16 L438.32 331.66 L437.12 332.16 L435.91 332.66 L434.69 333.16 L433.46 333.66 L432.19 334.16 L430.89 334.66 L429.52 335.16 L428.09 335.66 L426.56 336.16 L424.89 336.66 L423.13 337.16 L421.31 337.66 L419.48 338.16 L417.68 338.66 L415.89 339.16 L414.06 339.66 L412.22 340.16 L410.44 340.66 L408.78 341.16 L407.23 341.66 L405.69 342.16 L404.25 342.66 L403.02 343.16 L402.13 343.66 L401.37 344.16 L400.7 344.66 L400.27 345.16 L400.17 345.66 L400.25 346.16 L400.43 346.66 L400.69 347.16 L400.99 347.66 L401.45 348.16 L402.24 348.66 L403.27 349.16 L404.43 349.66 L405.65 350.16 L407.16 350.66 L408.91 351.16 L410.73 351.66 L412.46 352.16 L414.04 352.66 L415.6 353.16 L417.14 353.66 L418.64 354.16 L420.09 354.66 L421.49 355.16 L422.83 355.66 L424.12 356.16 L425.37 356.66 L426.59 357.16 L427.8 357.66 L429.01 358.16 L430.18 358.66 L431.3 359.16 L432.41 359.66 L433.58 360.16 L434.86 360.66 L436.32 361.16 L437.97 361.66 L439.71 362.16 L441.46 362.66 L443.15 363.16 L444.88 363.66 L446.62 364.16 L448.29 364.66 L449.84 365.16 L451.26 365.66 L452.63 366.16 L453.92 366.66 L455.08 367.16 L456.08 367.66 L456.97 368.16 L457.79 368.66 L458.53 369.16 L459.18 369.66 L459.73 370.16 L460.22 370.66 L460.66 371.16 L461.06 371.66 L461.39 372.16 L461.64 372.66 L461.85 373.16 L462.03 373.66 L462.2 374.16 L462.32 374.66 L462.39 375.16 L462.4 375.37 L462.4 375.37 L462.41 375.16 L462.48 374.66 L462.6 374.16 L462.77 373.66 L462.95 373.16 L463.16 372.66 L463.41 372.16 L463.74 371.66 L464.14 371.16 L464.58 370.66 L465.07 370.16 L465.62 369.66 L466.27 369.16 L467.01 368.66 L467.83 368.16 L468.72 367.66 L469.72 367.16 L470.88 366.66 L472.17 366.16 L473.54 365.66 L474.96 365.16 L476.51 364.66 L478.18 364.16 L479.92 363.66 L481.65 363.16 L483.34 362.66 L485.09 362.16 L486.83 361.66 L488.48 361.16 L489.94 360.66 L491.22 360.16 L492.39 359.66 L493.5 359.16 L494.62 358.66 L495.79 358.16 L497 357.66 L498.21 357.16 L499.43 356.66 L500.68 356.16 L501.97 355.66 L503.31 355.16 L504.71 354.66 L506.16 354.16 L507.66 353.66 L509.2 353.16 L510.76 352.66 L512.34 352.16 L514.07 351.66 L515.89 351.16 L517.64 350.66 L519.15 350.16 L520.37 349.66 L521.53 349.16 L522.56 348.66 L523.35 348.16 L523.81 347.66 L524.11 347.16 L524.37 346.66 L524.55 346.16 L524.63 345.66 L524.53 345.16 L524.1 344.66 L523.43 344.16 L522.67 343.66 L521.78 343.16 L520.55 342.66 L519.11 342.16 L517.57 341.66 L516.02 341.16 L514.36 340.66 L512.58 340.16 L510.74 339.66 L508.91 339.16 L507.12 338.66 L505.32 338.16 L503.49 337.66 L501.67 337.16 L499.91 336.66 L498.24 336.16 L496.71 335.66 L495.28 335.16 L493.91 334.66 L492.61 334.16 L491.34 333.66 L490.11 333.16 L488.89 332.66 L487.68 332.16 L486.48 331.66 L485.29 331.16 L484.13 330.66 L483 330.16 L481.92 329.66 L480.88 329.16 L479.89 328.66 L478.95 328.16 L478.04 327.66 L477.16 327.16 L476.29 326.66 L475.43 326.16 L474.56 325.66 L473.67 325.16 L472.74 324.66 L471.81 324.16 L470.9 323.66 L470.06 323.16 L469.3 322.66 L468.57 322.16 L467.86 321.66 L467.17 321.16 L466.53 320.66 L465.95 320.16 L465.45 319.66 L465.04 319.16 L464.71 318.66 L464.39 318.16 L464.09 317.66 L463.82 317.16 L463.6 316.66 L463.42 316.16 L463.32 315.66 L463.3 315.16 L463.31 314.66 L463.34 314.16 L463.38 313.66 L463.44 313.16 L463.5 312.66 L463.56 312.16 L463.63 311.66 L463.69 311.16 L463.75 310.66 L463.81 310.16 L463.85 309.66 L463.88 309.16 L463.89 308.66 L463.88 308.16 L463.84 307.66 L463.77 307.16 L463.68 306.66 L463.57 306.16 L463.46 305.66 L463.35 305.16 L463.25 304.66 L463.16 304.16 L463.08 303.66 L463 303.16 L462.92 302.66 L462.85 302.16 L462.77 301.66 L462.69 301.16 L462.62 300.66 L462.55 300.16 L462.47 299.66 L462.4 299.16 Z" fill="#CC6677"/>
<path class="v" d="M601.5 278.85 L601.48 279.35 L601.46 279.85 L601.43 280.35 L601.4 280.85 L601.37 281.35 L601.34 281.85 L601.3 282.35 L601.27 282.85 L601.23 283.35 L601.2 283.85 L601.15 284.35 L601.1 284.85 L601.03 285.35 L600.92 285.85 L600.79 286.35 L600.63 286.85 L600.46 287.35 L600.29 287.85 L600.11 288.35 L599.9 288.85 L599.69 289.35 L599.5 289.85 L599.35 290.35 L599.24 290.85 L599.14 291.35 L599.04 291.85 L598.96 292.35 L598.91 292.85 L598.89 293.35 L598.89 293.85 L598.9 294.35 L598.91 294.85 L598.92 295.35 L598.94 295.85 L598.96 296.35 L599 296.85 L599.08 297.35 L599.19 297.85 L599.31 298.35 L599.44 298.85 L599.55 299.35 L599.67 299.85 L599.8 300.35 L599.93 300.85 L600.05 301.35 L600.14 301.85 L600.2 302.35 L600.25 302.85 L600.29 303.35 L600.31 303.85 L600.27 304.35 L600.17 304.85 L600.04 305.35 L599.89 305.85 L599.7 306.35 L599.46 306.85 L599.18 307.35 L598.85 307.85 L598.41 308.35 L597.92 308.85 L597.41 309.35 L596.94 309.85 L596.47 310.35 L595.98 310.85 L595.46 311.35 L594.89 311.85 L594.32 312.35 L593.68 312.85 L592.87 313.35 L591.72 313.85 L590.87 314.35 L590.17 314.85 L589.58 315.35 L589.05 315.85 L588.57 316.35 L588.1 316.85 L587.59 317.35 L587.05 317.85 L586.54 318.35 L586.04 318.85 L585.56 319.35 L585.08 319.85 L584.6 320.35 L584.11 320.85 L583.61 321.35 L583.09 321.85 L582.55 322.35 L582.02 322.85 L581.48 323.35 L580.93 323.85 L580.37 324.35 L579.79 324.85 L579.18 325.35 L578.54 325.85 L577.86 326.35 L577.14 326.85 L576.37 327.35 L575.55 327.85 L574.68 328.35 L573.77 328.85 L572.81 329.35 L571.8 329.85 L570.68 330.35 L569.44 330.85 L568.12 331.35 L566.78 331.85 L565.49 332.35 L564.3 332.85 L563.15 333.35 L562.01 333.85 L560.91 334.35 L559.94 334.85 L559.14 335.35 L558.47 335.85 L557.85 336.35 L557.28 336.85 L556.79 337.35 L556.4 337.85 L556.13 338.35 L555.94 338.85 L555.76 339.35 L555.6 339.85 L555.49 340.35 L555.41 340.85 L555.38 341.35 L555.41 341.85 L555.49 342.35 L555.62 342.85 L555.77 343.35 L555.95 343.85 L556.14 344.35 L556.36 344.85 L556.65 345.35 L557 345.85 L557.41 346.35 L557.86 346.85 L558.35 347.35 L558.88 347.85 L559.46 348.35 L560.18 348.85 L561.01 349.35 L561.93 349.85 L562.92 350.35 L563.94 350.85 L564.99 351.35 L566.16 351.85 L567.42 352.35 L568.73 352.85 L570.05 353.35 L571.35 353.85 L572.61 354.35 L573.89 354.85 L575.19 355.35 L576.47 355.85 L577.71 356.35 L578.89 356.85 L580 357.35 L581.08 357.85 L582.13 358.35 L583.14 358.85 L584.13 359.35 L585.09 359.85 L586.01 360.35 L586.91 360.85 L587.8 361.35 L588.67 361.85 L589.53 362.35 L590.35 362.85 L591.13 363.35 L591.86 363.85 L592.53 364.35 L593.15 364.85 L593.74 365.35 L594.3 365.85 L594.83 366.35 L595.34 366.85 L595.82 367.35 L596.27 367.85 L596.7 368.35 L597.09 368.85 L597.47 369.35 L597.83 369.85 L598.19 370.35 L598.53 370.85 L598.84 371.35 L599.14 371.85 L599.4 372.35 L599.64 372.85 L599.83 373.35 L599.99 373.85 L600.14 374.35 L600.28 374.85 L600.41 375.35 L600.52 375.85 L600.63 376.35 L600.72 376.85 L600.81 377.35 L600.89 377.85 L600.97 378.35 L601.04 378.85 L601.12 379.35 L601.18 379.85 L601.25 380.35 L601.31 380.85 L601.36 381.35 L601.41 381.85 L601.45 382.35 L601.48 382.85 L601.5 383.13 L601.5 383.13 L601.52 382.85 L601.55 382.35 L601.59 381.85 L601.64 381.35 L601.69 380.85 L601.75 380.35 L601.82 379.85 L601.88 379.35 L601.96 378.85 L602.03 378.35 L602.11 377.85 L602.19 377.35 L602.28 376.85 L602.37 376.35 L602.48 375.85 L602.59 375.35 L602.72 374.85 L602.86 374.35 L603.01 373.85 L603.17 373.35 L603.36 372.85 L603.6 372.35 L603.86 371.85 L604.16 371.35 L604.47 370.85 L604.81 370.35 L605.17 369.85 L605.53 369.35 L605.91 368.85 L606.3 368.35 L606.73 367.85 L607.18 367.35 L607.66 366.85 L608.17 366.35 L608.7 365.85 L609.26 365.35 L609.85 364.85 L610.47 364.35 L611.14 363.85 L611.87 363.35 L612.65 362.85 L613.47 362.35 L614.33 361.85 L615.2 361.35 L616.09 360.85 L616.99 360.35 L617.91 359.85 L618.87 359.35 L619.86 358.85 L620.87 358.35 L621.92 357.85 L623 357.35 L624.11 356.85 L625.29 356.35 L626.53 355.85 L627.81 355.35 L629.11 354.85 L630.39 354.35 L631.65 353.85 L632.95 353.35 L634.27 352.85 L635.58 352.35 L636.84 351.85 L638.01 351.35 L639.06 350.85 L640.08 350.35 L641.07 349.85 L641.99 349.35 L642.82 348.85 L643.54 348.35 L644.12 347.85 L644.65 347.35 L645.14 346.85 L645.59 346.35 L646 345.85 L646.35 345.35 L646.64 344.85 L646.86 344.35 L647.05 343.85 L647.23 343.35 L647.38 342.85 L647.51 342.35 L647.59 341.85 L647.62 341.35 L647.59 340.85 L647.51 340.35 L647.4 339.85 L647.24 339.35 L647.06 338.85 L646.87 338.35 L646.6 337.85 L646.21 337.35 L645.72 336.85 L645.15 336.35 L644.53 335.85 L643.86 335.35 L643.06 334.85 L642.09 334.35 L640.99 333.85 L639.85 333.35 L638.7 332.85 L637.51 332.35 L636.22 331.85 L634.88 331.35 L633.56 330.85 L632.32 330.35 L631.2 329.85 L630.19 329.35 L629.23 328.85 L628.32 328.35 L627.45 327.85 L626.63 327.35 L625.86 326.85 L625.14 326.35 L624.46 325.85 L623.82 325.35 L623.21 324.85 L622.63 324.35 L622.07 323.85 L621.52 323.35 L620.98 322.85 L620.45 322.35 L619.91 321.85 L619.39 321.35 L618.89 320.85 L618.4 320.35 L617.92 319.85 L617.44 319.35 L616.96 318.85 L616.46 318.35 L615.95 317.85 L615.41 317.35 L614.9 316.85 L614.43 316.35 L613.95 315.85 L613.42 315.35 L612.83 314.85 L612.13 314.35 L611.28 313.85 L610.13 313.35 L609.32 312.85 L608.68 312.35 L608.11 311.85 L607.54 311.35 L607.02 310.85 L606.53 310.35 L606.06 309.85 L605.59 309.35 L605.08 308.85 L604.59 308.35 L604.15 307.85 L603.82 307.35 L603.54 306.85 L603.3 306.35 L603.11 305.85 L602.96 305.35 L602.83 304.85 L602.73 304.35 L602.69 303.85 L602.71 303.35 L602.75 302.85 L602.8 302.35 L602.86 301.85 L602.95 301.35 L603.07 300.85 L603.2 300.35 L603.33 299.85 L603.45 299.35 L603.56 298.85 L603.69 298.35 L603.81 297.85 L603.92 297.35 L604 296.85 L604.04 296.35 L604.06 295.85 L604.08 295.35 L604.09 294.85 L604.1 294.35 L604.11 293.85 L604.11 293.35 L604.09 292.85 L604.04 292.35 L603.96 291.85 L603.86 291.35 L603.76 290.85 L603.65 290.35 L603.5 289.85 L603.31 289.35 L603.1 288.85 L602.89 288.35 L602.71 287.85 L602.54 287.35 L602.37 286.85 L602.21 286.35 L602.08 285.85 L601.97 285.35 L601.9 284.85 L601.85 284.35 L601.8 283.85 L601.77 283.35 L601.73 282.85 L601.7 282.35 L601.66 281.85 L601.63 281.35 L601.6 280.85 L601.57 280.35 L601.54 279.85 L601.52 279.35 L601.5 278.85 Z" fill="#882255"/>
<circle class="o" cx="462.4" cy="309.4" r="1.8"/>
<line class="w" x1="462.4" y1="320.9" x2="462.4" y2="339.5"/>
<line class="w" x1="462.4" y1="352.6" x2="462.4" y2="365.5"/>
<rect class="w" x="455.74" y="339.5" width="13.31" height="13.1" fill="#fff"/>
<line class="md" x1="455.74" y1="346.3" x2="469.06" y2="346.3"/>
<circle class="o" cx="601.5" cy="291.6" r="1.8"/>
<circle class="o" cx="601.5" cy="293.4" r="1.8"/>
<circle class="o" cx="601.5" cy="297.9" r="1.8"/>
<line class="w" x1="601.5" y1="313.8" x2="601.5" y2="332.1"/>
<line class="w" x1="601.5" y1="349.25" x2="601.5" y2="369.7"/>
<rect class="w" x="594.84" y="332.1" width="13.31" height="17.15" fill="#fff"/>
<line class="md" x1="594.84" y1="340.25" x2="608.16" y2="340.25"/>
</g>
<rect class="b" x="379.5" y="273.5" width="305.1" height="114.9" fill="none"/>
<line class="t" x1="377" y1="362.2" x2="379.5" y2="362.2"/>
<text class="a" x="376.2" y="364.8" text-anchor="end">50</text>
<line class="t" x1="377" y1="331.55" x2="379.5" y2="331.55"/>
<text class="a" x="376.2" y="334.15" text-anchor="end">100</text>
<line class="t" x1="377" y1="300.9" x2="379.5" y2="300.9"/>
<text class="a" x="376.2" y="303.5" text-anchor="end">150</text>
<line class="t" x1="462.4" y1="388.4" x2="462.4" y2="390.9"/>
<text class="a" x="462.4" y="398.3" text-anchor="middle">No delirium</text>
<line class="t" x1="601.5" y1="388.4" x2="601.5" y2="390.9"/>
<text class="a" x="601.5" y="398.3" text-anchor="middle">Delirium</text>
<text transform="translate(349.4 330.95) rotate(-90)" text-anchor="middle" fill="#000">TIMP−2 ng/mL</text>
<!-- panel G -->
<rect x="29.56" y="408.5" width="305.94" height="114.5" fill="#fff"/>
<line class="m" x1="29.56" y1="505.8" x2="335.5" y2="505.8"/>
<line class="m" x1="29.56" y1="476.4" x2="335.5" y2="476.4"/>
<line class="m" x1="29.56" y1="447" x2="335.5" y2="447"/>
<line class="m" x1="29.56" y1="417.6" x2="335.5" y2="417.6"/>
<line class="g" x1="29.56" y1="520.5" x2="335.5" y2="520.5"/>
<line class="g" x1="29.56" y1="491.1" x2="335.5" y2="491.1"/>
<line class="g" x1="29.56" y1="461.7" x2="335.5" y2="461.7"/>
<line class="g" x1="29.56" y1="432.3" x2="335.5" y2="432.3"/>
<line class="g" x1="112.9" y1="408.5" x2="112.9" y2="523"/>
<line class="g" x1="251.8" y1="408.5" x2="251.8" y2="523"/>
<clipPath id="c30"><rect x="29.56" y="408.5" width="305.94" height="114.5"/></clipPath>
<g clip-path="url(#c30)">
<path class="v" d="M112.9 421.43 L112.89 421.93 L112.85 422.43 L112.79 422.93 L112.71 423.43 L112.62 423.93 L112.51 424.43 L112.39 424.93 L112.27 425.43 L112.15 425.93 L111.99 426.43 L111.79 426.93 L111.56 427.43 L111.29 427.93 L111.01 428.43 L110.72 428.93 L110.43 429.43 L110.15 429.93 L109.89 430.43 L109.65 430.93 L109.41 431.43 L109.18 431.93 L108.95 432.43 L108.72 432.93 L108.47 433.43 L108.21 433.93 L107.93 434.43 L107.63 434.93 L107.32 435.43 L106.99 435.93 L106.63 436.43 L106.25 436.93 L105.83 437.43 L105.38 437.93 L104.87 438.43 L104.29 438.93 L103.57 439.43 L102.75 439.93 L101.85 440.43 L100.89 440.93 L99.9 441.43 L98.91 441.93 L97.92 442.43 L96.89 442.93 L95.81 443.43 L94.7 443.93 L93.56 444.43 L92.41 444.93 L91.24 445.43 L90.06 445.93 L88.88 446.43 L87.68 446.93 L86.47 447.43 L85.23 447.93 L83.98 448.43 L82.71 448.93 L81.43 449.43 L80.12 449.93 L78.8 450.43 L77.44 450.93 L76.05 451.43 L74.64 451.93 L73.21 452.43 L71.79 452.93 L70.37 453.43 L68.97 453.93 L67.58 454.43 L66.17 454.93 L64.76 455.43 L63.37 455.93 L62.02 456.43 L60.71 456.93 L59.48 457.43 L58.23 457.93 L57.01 458.43 L55.86 458.93 L54.83 459.43 L53.96 459.93 L53.2 460.43 L52.5 460.93 L51.88 461.43 L51.36 461.93 L50.99 462.43 L50.7 462.93 L50.47 463.43 L50.36 463.93 L50.42 464.43 L50.6 464.93 L50.86 465.43 L51.19 465.93 L51.54 466.43 L51.93 466.93 L52.45 467.43 L53.08 467.93 L53.81 468.43 L54.58 468.93 L55.38 469.43 L56.17 469.93 L56.97 470.43 L57.82 470.93 L58.71 471.43 L59.63 471.93 L60.57 472.43 L61.51 472.93 L62.45 473.43 L63.39 473.93 L64.33 474.43 L65.28 474.93 L66.24 475.43 L67.2 475.93 L68.17 476.43 L69.15 476.93 L70.13 477.43 L71.11 477.93 L72.12 478.43 L73.13 478.93 L74.14 479.43 L75.15 479.93 L76.16 480.43 L77.14 480.93 L78.11 481.43 L79.05 481.93 L79.98 482.43 L80.89 482.93 L81.8 483.43 L82.71 483.93 L83.63 484.43 L84.56 484.93 L85.52 485.43 L86.49 485.93 L87.49 486.43 L88.49 486.93 L89.5 487.43 L90.51 487.93 L91.52 488.43 L92.53 488.93 L93.53 489.43 L94.53 489.93 L95.53 490.43 L96.53 490.93 L97.53 491.43 L98.53 491.93 L99.53 492.43 L100.53 492.93 L101.58 493.43 L102.65 493.93 L103.72 494.43 L104.73 494.93 L105.65 495.43 L106.45 495.93 L107.21 496.43 L107.95 496.93 L108.63 497.43 L109.22 497.93 L109.69 498.43 L110.03 498.93 L110.31 499.43 L110.57 499.93 L110.79 500.43 L110.99 500.93 L111.15 501.43 L111.29 501.93 L111.4 502.43 L111.49 502.93 L111.56 503.43 L111.63 503.93 L111.69 504.43 L111.75 504.93 L111.8 505.43 L111.85 505.93 L111.89 506.43 L111.94 506.93 L111.98 507.43 L112.03 507.93 L112.07 508.43 L112.11 508.93 L112.15 509.43 L112.18 509.93 L112.22 510.43 L112.25 510.93 L112.29 511.43 L112.32 511.93 L112.36 512.43 L112.39 512.93 L112.43 513.43 L112.47 513.93 L112.52 514.43 L112.56 514.93 L112.61 515.43 L112.65 515.93 L112.7 516.43 L112.75 516.93 L112.8 517.43 L112.85 517.93 L112.9 518.43 L112.9 518.45 L112.9 518.45 L112.9 518.43 L112.95 517.93 L113 517.43 L113.05 516.93 L113.1 516.43 L113.15 515.93 L113.19 515.43 L113.24 514.93 L113.28 514.43 L113.33 513.93 L113.37 513.43 L113.41 512.93 L113.44 512.43 L113.48 511.93 L113.51 511.43 L113.55 510.93 L113.58 510.43 L113.62 509.93 L113.65 509.43 L113.69 508.93 L113.73 508.43 L113.77 507.93 L113.82 507.43 L113.86 506.93 L113.91 506.43 L113.95 505.93 L114 505.43 L114.05 504.93 L114.11 504.43 L114.17 503.93 L114.24 503.43 L114.31 502.93 L114.4 502.43 L114.51 501.93 L114.65 501.43 L114.81 500.93 L115.01 500.43 L115.23 499.93 L115.49 499.43 L115.77 498.93 L116.11 498.43 L116.58 497.93 L117.17 497.43 L117.85 496.93 L118.59 496.43 L119.35 495.93 L120.15 495.43 L121.07 494.93 L122.08 494.43 L123.15 493.93 L124.22 493.43 L125.27 492.93 L126.27 492.43 L127.27 491.93 L128.27 491.43 L129.27 490.93 L130.27 490.43 L131.27 489.93 L132.27 489.43 L133.27 488.93 L134.28 488.43 L135.29 487.93 L136.3 487.43 L137.31 486.93 L138.31 486.43 L139.31 485.93 L140.28 485.43 L141.24 484.93 L142.17 484.43 L143.09 483.93 L144 483.43 L144.91 482.93 L145.82 482.43 L146.75 481.93 L147.69 481.43 L148.66 480.93 L149.64 480.43 L150.65 479.93 L151.66 479.43 L152.67 478.93 L153.68 478.43 L154.69 477.93 L155.67 477.43 L156.65 476.93 L157.63 476.43 L158.6 475.93 L159.56 475.43 L160.52 474.93 L161.47 474.43 L162.41 473.93 L163.35 473.43 L164.29 472.93 L165.23 472.43 L166.17 471.93 L167.09 471.43 L167.98 470.93 L168.83 470.43 L169.63 469.93 L170.42 469.43 L171.22 468.93 L171.99 468.43 L172.72 467.93 L173.35 467.43 L173.87 466.93 L174.26 466.43 L174.61 465.93 L174.94 465.43 L175.2 464.93 L175.38 464.43 L175.44 463.93 L175.33 463.43 L175.1 462.93 L174.81 462.43 L174.44 461.93 L173.92 461.43 L173.3 460.93 L172.6 460.43 L171.84 459.93 L170.97 459.43 L169.94 458.93 L168.79 458.43 L167.57 457.93 L166.32 457.43 L165.09 456.93 L163.78 456.43 L162.43 455.93 L161.04 455.43 L159.63 454.93 L158.22 454.43 L156.83 453.93 L155.43 453.43 L154.01 452.93 L152.59 452.43 L151.16 451.93 L149.75 451.43 L148.36 450.93 L147 450.43 L145.68 449.93 L144.37 449.43 L143.09 448.93 L141.82 448.43 L140.57 447.93 L139.33 447.43 L138.12 446.93 L136.92 446.43 L135.74 445.93 L134.56 445.43 L133.39 444.93 L132.24 444.43 L131.1 443.93 L129.99 443.43 L128.91 442.93 L127.88 442.43 L126.89 441.93 L125.9 441.43 L124.91 440.93 L123.95 440.43 L123.05 439.93 L122.23 439.43 L121.51 438.93 L120.93 438.43 L120.42 437.93 L119.97 437.43 L119.55 436.93 L119.17 436.43 L118.81 435.93 L118.48 435.43 L118.17 434.93 L117.87 434.43 L117.59 433.93 L117.33 433.43 L117.08 432.93 L116.85 432.43 L116.62 431.93 L116.39 431.43 L116.15 430.93 L115.91 430.43 L115.65 429.93 L115.37 429.43 L115.08 428.93 L114.79 428.43 L114.51 427.93 L114.24 427.43 L114.01 426.93 L113.81 426.43 L113.65 425.93 L113.53 425.43 L113.41 424.93 L113.29 424.43 L113.18 423.93 L113.09 423.43 L113.01 422.93 L112.95 422.43 L112.91 421.93 L112.9 421.43 Z" fill="#CC6677"/>
<path class="v" d="M251.8 413.22 L251.79 413.72 L251.78 414.22 L251.75 414.72 L251.72 415.22 L251.68 415.72 L251.63 416.22 L251.57 416.72 L251.51 417.22 L251.45 417.72 L251.38 418.22 L251.31 418.72 L251.21 419.22 L251.08 419.72 L250.93 420.22 L250.76 420.72 L250.58 421.22 L250.38 421.72 L250.17 422.22 L249.95 422.72 L249.72 423.22 L249.46 423.72 L249.16 424.22 L248.84 424.72 L248.49 425.22 L248.13 425.72 L247.76 426.22 L247.38 426.72 L247.01 427.22 L246.64 427.72 L246.26 428.22 L245.89 428.72 L245.5 429.22 L245.1 429.72 L244.69 430.22 L244.25 430.72 L243.79 431.22 L243.3 431.72 L242.78 432.22 L242.22 432.72 L241.63 433.22 L241 433.72 L240.34 434.22 L239.64 434.72 L238.92 435.22 L238.17 435.72 L237.39 436.22 L236.57 436.72 L235.67 437.22 L234.71 437.72 L233.7 438.22 L232.65 438.72 L231.59 439.22 L230.52 439.72 L229.47 440.22 L228.44 440.72 L227.44 441.22 L226.42 441.72 L225.39 442.22 L224.36 442.72 L223.33 443.22 L222.32 443.72 L221.33 444.22 L220.36 444.72 L219.43 445.22 L218.52 445.72 L217.63 446.22 L216.76 446.72 L215.9 447.22 L215.06 447.72 L214.24 448.22 L213.43 448.72 L212.66 449.22 L211.9 449.72 L211.16 450.22 L210.43 450.72 L209.72 451.22 L209.02 451.72 L208.34 452.22 L207.68 452.72 L207.05 453.22 L206.45 453.72 L205.88 454.22 L205.33 454.72 L204.78 455.22 L204.24 455.72 L203.71 456.22 L203.22 456.72 L202.76 457.22 L202.34 457.72 L201.97 458.22 L201.66 458.72 L201.39 459.22 L201.12 459.72 L200.86 460.22 L200.63 460.72 L200.46 461.22 L200.34 461.72 L200.31 462.22 L200.34 462.72 L200.4 463.22 L200.51 463.72 L200.63 464.22 L200.78 464.72 L200.93 465.22 L201.09 465.72 L201.28 466.22 L201.5 466.72 L201.76 467.22 L202.06 467.72 L202.37 468.22 L202.71 468.72 L203.07 469.22 L203.43 469.72 L203.81 470.22 L204.22 470.72 L204.67 471.22 L205.15 471.72 L205.66 472.22 L206.21 472.72 L206.78 473.22 L207.39 473.72 L208.04 474.22 L208.74 474.72 L209.49 475.22 L210.29 475.72 L211.14 476.22 L212.02 476.72 L212.95 477.22 L213.93 477.72 L214.99 478.22 L216.13 478.72 L217.34 479.22 L218.59 479.72 L219.87 480.22 L221.17 480.72 L222.48 481.22 L223.88 481.72 L225.36 482.22 L226.88 482.72 L228.38 483.22 L229.8 483.72 L231.1 484.22 L232.28 484.72 L233.42 485.22 L234.52 485.72 L235.56 486.22 L236.52 486.72 L237.4 487.22 L238.18 487.72 L238.89 488.22 L239.56 488.72 L240.19 489.22 L240.77 489.72 L241.32 490.22 L241.85 490.72 L242.34 491.22 L242.81 491.72 L243.25 492.22 L243.68 492.72 L244.08 493.22 L244.46 493.72 L244.83 494.22 L245.18 494.72 L245.52 495.22 L245.85 495.72 L246.17 496.22 L246.48 496.72 L246.77 497.22 L247.06 497.72 L247.34 498.22 L247.61 498.72 L247.87 499.22 L248.14 499.72 L248.39 500.22 L248.64 500.72 L248.88 501.22 L249.1 501.72 L249.31 502.22 L249.51 502.72 L249.69 503.22 L249.87 503.72 L250.05 504.22 L250.21 504.72 L250.36 505.22 L250.49 505.72 L250.61 506.22 L250.72 506.72 L250.82 507.22 L250.92 507.72 L251.01 508.22 L251.1 508.72 L251.18 509.22 L251.25 509.72 L251.31 510.22 L251.36 510.72 L251.4 511.22 L251.45 511.72 L251.49 512.22 L251.53 512.72 L251.57 513.22 L251.61 513.72 L251.65 514.22 L251.68 514.72 L251.71 515.22 L251.74 515.72 L251.76 516.22 L251.78 516.72 L251.79 517.22 L251.8 517.72 L251.8 518.15 L251.8 518.15 L251.8 517.72 L251.81 517.22 L251.82 516.72 L251.84 516.22 L251.86 515.72 L251.89 515.22 L251.92 514.72 L251.95 514.22 L251.99 513.72 L252.03 513.22 L252.07 512.72 L252.11 512.22 L252.15 511.72 L252.2 511.22 L252.24 510.72 L252.29 510.22 L252.35 509.72 L252.42 509.22 L252.5 508.72 L252.59 508.22 L252.68 507.72 L252.78 507.22 L252.88 506.72 L252.99 506.22 L253.11 505.72 L253.24 505.22 L253.39 504.72 L253.55 504.22 L253.73 503.72 L253.91 503.22 L254.09 502.72 L254.29 502.22 L254.5 501.72 L254.72 501.22 L254.96 500.72 L255.21 500.22 L255.46 499.72 L255.73 499.22 L255.99 498.72 L256.26 498.22 L256.54 497.72 L256.83 497.22 L257.12 496.72 L257.43 496.22 L257.75 495.72 L258.08 495.22 L258.42 494.72 L258.77 494.22 L259.14 493.72 L259.52 493.22 L259.92 492.72 L260.35 492.22 L260.79 491.72 L261.26 491.22 L261.75 490.72 L262.28 490.22 L262.83 489.72 L263.41 489.22 L264.04 488.72 L264.71 488.22 L265.42 487.72 L266.2 487.22 L267.08 486.72 L268.04 486.22 L269.08 485.72 L270.18 485.22 L271.32 484.72 L272.5 484.22 L273.8 483.72 L275.22 483.22 L276.72 482.72 L278.24 482.22 L279.72 481.72 L281.12 481.22 L282.43 480.72 L283.73 480.22 L285.01 479.72 L286.26 479.22 L287.47 478.72 L288.61 478.22 L289.67 477.72 L290.65 477.22 L291.58 476.72 L292.46 476.22 L293.31 475.72 L294.11 475.22 L294.86 474.72 L295.56 474.22 L296.21 473.72 L296.82 473.22 L297.39 472.72 L297.94 472.22 L298.45 471.72 L298.93 471.22 L299.38 470.72 L299.79 470.22 L300.17 469.72 L300.53 469.22 L300.89 468.72 L301.23 468.22 L301.54 467.72 L301.84 467.22 L302.1 466.72 L302.32 466.22 L302.51 465.72 L302.67 465.22 L302.82 464.72 L302.97 464.22 L303.09 463.72 L303.2 463.22 L303.26 462.72 L303.29 462.22 L303.26 461.72 L303.14 461.22 L302.97 460.72 L302.74 460.22 L302.48 459.72 L302.21 459.22 L301.94 458.72 L301.63 458.22 L301.26 457.72 L300.84 457.22 L300.38 456.72 L299.89 456.22 L299.36 455.72 L298.82 455.22 L298.27 454.72 L297.72 454.22 L297.15 453.72 L296.55 453.22 L295.92 452.72 L295.26 452.22 L294.58 451.72 L293.88 451.22 L293.17 450.72 L292.44 450.22 L291.7 449.72 L290.94 449.22 L290.17 448.72 L289.36 448.22 L288.54 447.72 L287.7 447.22 L286.84 446.72 L285.97 446.22 L285.08 445.72 L284.17 445.22 L283.24 444.72 L282.27 444.22 L281.28 443.72 L280.27 443.22 L279.24 442.72 L278.21 442.22 L277.18 441.72 L276.16 441.22 L275.16 440.72 L274.13 440.22 L273.08 439.72 L272.01 439.22 L270.95 438.72 L269.9 438.22 L268.89 437.72 L267.93 437.22 L267.03 436.72 L266.21 436.22 L265.43 435.72 L264.68 435.22 L263.96 434.72 L263.26 434.22 L262.6 433.72 L261.97 433.22 L261.38 432.72 L260.82 432.22 L260.3 431.72 L259.81 431.22 L259.35 430.72 L258.91 430.22 L258.5 429.72 L258.1 429.22 L257.71 428.72 L257.34 428.22 L256.96 427.72 L256.59 427.22 L256.22 426.72 L255.84 426.22 L255.47 425.72 L255.11 425.22 L254.76 424.72 L254.44 424.22 L254.14 423.72 L253.88 423.22 L253.65 422.72 L253.43 422.22 L253.22 421.72 L253.02 421.22 L252.84 420.72 L252.67 420.22 L252.52 419.72 L252.39 419.22 L252.29 418.72 L252.22 418.22 L252.15 417.72 L252.09 417.22 L252.03 416.72 L251.97 416.22 L251.92 415.72 L251.88 415.22 L251.85 414.72 L251.82 414.22 L251.81 413.72 L251.8 413.22 Z" fill="#882255"/>
<line class="w" x1="112.9" y1="435.6" x2="112.9" y2="457.25"/>
<line class="w" x1="112.9" y1="476.15" x2="112.9" y2="507.7"/>
<rect class="w" x="106.22" y="457.25" width="13.35" height="18.9" fill="#fff"/>
<line class="md" x1="106.22" y1="465.1" x2="119.58" y2="465.1"/>
<line class="w" x1="251.8" y1="428.9" x2="251.8" y2="451.7"/>
<line class="w" x1="251.8" y1="473.4" x2="251.8" y2="507.7"/>
<rect class="w" x="245.12" y="451.7" width="13.35" height="21.7" fill="#fff"/>
<line class="md" x1="245.12" y1="462.7" x2="258.48" y2="462.7"/>
</g>
<rect class="b" x="29.56" y="408.5" width="305.94" height="114.5" fill="none"/>
<line class="t" x1="27.06" y1="520.5" x2="29.56" y2="520.5"/>
<text class="a" x="26.26" y="523.1" text-anchor="end">8</text>
<line class="t" x1="27.06" y1="491.1" x2="29.56" y2="491.1"/>
<text class="a" x="26.26" y="493.7" text-anchor="end">12</text>
<line class="t" x1="27.06" y1="461.7" x2="29.56" y2="461.7"/>
<text class="a" x="26.26" y="464.3" text-anchor="end">16</text>
<line class="t" x1="27.06" y1="432.3" x2="29.56" y2="432.3"/>
<text class="a" x="26.26" y="434.9" text-anchor="end">20</text>
<line class="t" x1="112.9" y1="523" x2="112.9" y2="525.5"/>
<text class="a" x="112.9" y="532.9" text-anchor="middle">No delirium</text>
<line class="t" x1="251.8" y1="523" x2="251.8" y2="525.5"/>
<text class="a" x="251.8" y="532.9" text-anchor="middle">Delirium</text>
<text transform="translate(8.9 465.75) rotate(-90)" text-anchor="middle" fill="#000">TIMP−3 ng/mL</text>
<!-- panel H -->
<rect x="379.5" y="408.5" width="305.1" height="114.5" fill="#fff"/>
<line class="m" x1="379.5" y1="508.75" x2="684.6" y2="508.75"/>
<line class="m" x1="379.5" y1="480.65" x2="684.6" y2="480.65"/>
<line class="m" x1="379.5" y1="452.55" x2="684.6" y2="452.55"/>
<line class="m" x1="379.5" y1="424.45" x2="684.6" y2="424.45"/>
<line class="g" x1="379.5" y1="522.8" x2="684.6" y2="522.8"/>
<line class="g" x1="379.5" y1="494.7" x2="684.6" y2="494.7"/>
<line class="g" x1="379.5" y1="466.6" x2="684.6" y2="466.6"/>
<line class="g" x1="379.5" y1="438.5" x2="684.6" y2="438.5"/>
<line class="g" x1="379.5" y1="410.4" x2="684.6" y2="410.4"/>
<line class="g" x1="462.4" y1="408.5" x2="462.4" y2="523"/>
<line class="g" x1="601.5" y1="408.5" x2="601.5" y2="523"/>
<clipPath id="c31"><rect x="379.5" y="408.5" width="305.1" height="114.5"/></clipPath>
<g clip-path="url(#c31)">
<path class="v" d="M462.4 423.21 L462.38 423.71 L462.34 424.21 L462.3 424.71 L462.25 425.21 L462.19 425.71 L462.13 426.21 L462.06 426.71 L461.98 427.21 L461.9 427.71 L461.82 428.21 L461.74 428.71 L461.65 429.21 L461.55 429.71 L461.45 430.21 L461.33 430.71 L461.2 431.21 L461.06 431.71 L460.91 432.21 L460.75 432.71 L460.58 433.21 L460.41 433.71 L460.23 434.21 L460.05 434.71 L459.84 435.21 L459.62 435.71 L459.38 436.21 L459.13 436.71 L458.86 437.21 L458.59 437.71 L458.31 438.21 L458.02 438.71 L457.72 439.21 L457.43 439.71 L457.12 440.21 L456.8 440.71 L456.47 441.21 L456.13 441.71 L455.78 442.21 L455.42 442.71 L455.05 443.21 L454.66 443.71 L454.27 444.21 L453.86 444.71 L453.44 445.21 L453 445.71 L452.54 446.21 L452.07 446.71 L451.58 447.21 L451.07 447.71 L450.56 448.21 L450.02 448.71 L449.48 449.21 L448.93 449.71 L448.37 450.21 L447.8 450.71 L447.22 451.21 L446.63 451.71 L446.03 452.21 L445.4 452.71 L444.74 453.21 L444.05 453.71 L443.33 454.21 L442.56 454.71 L441.73 455.21 L440.83 455.71 L439.87 456.21 L438.86 456.71 L437.81 457.21 L436.72 457.71 L435.62 458.21 L434.48 458.71 L433.22 459.21 L431.89 459.71 L430.55 460.21 L429.26 460.71 L428.09 461.21 L427.08 461.71 L426.13 462.21 L425.23 462.71 L424.41 463.21 L423.67 463.71 L423.04 464.21 L422.5 464.71 L422.03 465.21 L421.6 465.71 L421.19 466.21 L420.78 466.71 L420.34 467.21 L419.87 467.71 L419.4 468.21 L418.92 468.71 L418.43 469.21 L417.92 469.71 L417.38 470.21 L416.8 470.71 L416.18 471.21 L415.53 471.71 L414.85 472.21 L414.14 472.71 L413.4 473.21 L412.64 473.71 L411.79 474.21 L410.83 474.71 L409.84 475.21 L408.9 475.71 L408.07 476.21 L407.42 476.71 L406.84 477.21 L406.28 477.71 L405.79 478.21 L405.42 478.71 L405.24 479.21 L405.27 479.71 L405.41 480.21 L405.64 480.71 L405.94 481.21 L406.3 481.71 L406.77 482.21 L407.58 482.71 L408.64 483.21 L409.84 483.71 L411.06 484.21 L412.34 484.71 L413.78 485.21 L415.32 485.71 L416.88 486.21 L418.39 486.71 L419.84 487.21 L421.33 487.71 L422.81 488.21 L424.21 488.71 L425.49 489.21 L426.59 489.71 L427.56 490.21 L428.46 490.71 L429.3 491.21 L430.1 491.71 L430.91 492.21 L431.74 492.71 L432.53 493.21 L433.3 493.71 L434.06 494.21 L434.83 494.71 L435.64 495.21 L436.49 495.71 L437.39 496.21 L438.33 496.71 L439.31 497.21 L440.32 497.71 L441.38 498.21 L442.47 498.71 L443.62 499.21 L444.86 499.71 L446.15 500.21 L447.46 500.71 L448.74 501.21 L449.96 501.71 L451.15 502.21 L452.34 502.71 L453.5 503.21 L454.6 503.71 L455.6 504.21 L456.5 504.71 L457.36 505.21 L458.17 505.71 L458.89 506.21 L459.48 506.71 L459.93 507.21 L460.33 507.71 L460.69 508.21 L461 508.71 L461.25 509.21 L461.44 509.71 L461.57 510.21 L461.68 510.71 L461.79 511.21 L461.89 511.71 L461.98 512.21 L462.06 512.71 L462.14 513.21 L462.21 513.71 L462.26 514.21 L462.31 514.71 L462.35 515.21 L462.38 515.71 L462.4 516.21 L462.4 516.66 L462.4 516.66 L462.4 516.21 L462.42 515.71 L462.45 515.21 L462.49 514.71 L462.54 514.21 L462.59 513.71 L462.66 513.21 L462.74 512.71 L462.82 512.21 L462.91 511.71 L463.01 511.21 L463.12 510.71 L463.23 510.21 L463.36 509.71 L463.55 509.21 L463.8 508.71 L464.11 508.21 L464.47 507.71 L464.87 507.21 L465.32 506.71 L465.91 506.21 L466.63 505.71 L467.44 505.21 L468.3 504.71 L469.2 504.21 L470.2 503.71 L471.3 503.21 L472.46 502.71 L473.65 502.21 L474.84 501.71 L476.06 501.21 L477.34 500.71 L478.65 500.21 L479.94 499.71 L481.18 499.21 L482.33 498.71 L483.42 498.21 L484.48 497.71 L485.49 497.21 L486.47 496.71 L487.41 496.21 L488.31 495.71 L489.16 495.21 L489.97 494.71 L490.74 494.21 L491.5 493.71 L492.27 493.21 L493.06 492.71 L493.89 492.21 L494.7 491.71 L495.5 491.21 L496.34 490.71 L497.24 490.21 L498.21 489.71 L499.31 489.21 L500.59 488.71 L501.99 488.21 L503.47 487.71 L504.96 487.21 L506.41 486.71 L507.92 486.21 L509.48 485.71 L511.02 485.21 L512.46 484.71 L513.74 484.21 L514.96 483.71 L516.16 483.21 L517.22 482.71 L518.03 482.21 L518.5 481.71 L518.86 481.21 L519.16 480.71 L519.39 480.21 L519.53 479.71 L519.56 479.21 L519.38 478.71 L519.01 478.21 L518.52 477.71 L517.96 477.21 L517.38 476.71 L516.73 476.21 L515.9 475.71 L514.96 475.21 L513.97 474.71 L513.01 474.21 L512.16 473.71 L511.4 473.21 L510.66 472.71 L509.95 472.21 L509.27 471.71 L508.62 471.21 L508 470.71 L507.42 470.21 L506.88 469.71 L506.37 469.21 L505.88 468.71 L505.4 468.21 L504.93 467.71 L504.46 467.21 L504.02 466.71 L503.61 466.21 L503.2 465.71 L502.77 465.21 L502.3 464.71 L501.76 464.21 L501.13 463.71 L500.39 463.21 L499.57 462.71 L498.67 462.21 L497.72 461.71 L496.71 461.21 L495.54 460.71 L494.25 460.21 L492.91 459.71 L491.58 459.21 L490.32 458.71 L489.18 458.21 L488.08 457.71 L486.99 457.21 L485.94 456.71 L484.93 456.21 L483.97 455.71 L483.07 455.21 L482.24 454.71 L481.47 454.21 L480.75 453.71 L480.06 453.21 L479.4 452.71 L478.77 452.21 L478.17 451.71 L477.58 451.21 L477 450.71 L476.43 450.21 L475.87 449.71 L475.32 449.21 L474.78 448.71 L474.24 448.21 L473.73 447.71 L473.22 447.21 L472.73 446.71 L472.26 446.21 L471.8 445.71 L471.36 445.21 L470.94 444.71 L470.53 444.21 L470.14 443.71 L469.75 443.21 L469.38 442.71 L469.02 442.21 L468.67 441.71 L468.33 441.21 L468 440.71 L467.68 440.21 L467.37 439.71 L467.08 439.21 L466.78 438.71 L466.49 438.21 L466.21 437.71 L465.94 437.21 L465.67 436.71 L465.42 436.21 L465.18 435.71 L464.96 435.21 L464.75 434.71 L464.57 434.21 L464.39 433.71 L464.22 433.21 L464.05 432.71 L463.89 432.21 L463.74 431.71 L463.6 431.21 L463.47 430.71 L463.35 430.21 L463.25 429.71 L463.15 429.21 L463.06 428.71 L462.98 428.21 L462.9 427.71 L462.82 427.21 L462.74 426.71 L462.67 426.21 L462.61 425.71 L462.55 425.21 L462.5 424.71 L462.46 424.21 L462.42 423.71 L462.4 423.21 Z" fill="#CC6677"/>
<path class="v" d="M601.5 412.99 L601.43 413.49 L601.36 413.99 L601.29 414.49 L601.22 414.99 L601.14 415.49 L601.06 415.99 L600.99 416.49 L600.91 416.99 L600.82 417.49 L600.74 417.99 L600.65 418.49 L600.55 418.99 L600.45 419.49 L600.36 419.99 L600.27 420.49 L600.19 420.99 L600.11 421.49 L600.04 421.99 L599.97 422.49 L599.91 422.99 L599.85 423.49 L599.79 423.99 L599.74 424.49 L599.7 424.99 L599.67 425.49 L599.64 425.99 L599.61 426.49 L599.58 426.99 L599.55 427.49 L599.53 427.99 L599.51 428.49 L599.5 428.99 L599.48 429.49 L599.47 429.99 L599.46 430.49 L599.46 430.99 L599.45 431.49 L599.44 431.99 L599.44 432.49 L599.43 432.99 L599.43 433.49 L599.42 433.99 L599.41 434.49 L599.41 434.99 L599.4 435.49 L599.39 435.99 L599.39 436.49 L599.38 436.99 L599.37 437.49 L599.37 437.99 L599.36 438.49 L599.35 438.99 L599.34 439.49 L599.33 439.99 L599.32 440.49 L599.31 440.99 L599.29 441.49 L599.27 441.99 L599.25 442.49 L599.22 442.99 L599.19 443.49 L599.15 443.99 L599.09 444.49 L599.01 444.99 L598.92 445.49 L598.81 445.99 L598.69 446.49 L598.53 446.99 L598.32 447.49 L598.07 447.99 L597.77 448.49 L597.45 448.99 L597.11 449.49 L596.71 449.99 L596.27 450.49 L595.79 450.99 L595.26 451.49 L594.68 451.99 L594.07 452.49 L593.43 452.99 L592.75 453.49 L591.98 453.99 L591.1 454.49 L590.12 454.99 L589.07 455.49 L587.98 455.99 L586.88 456.49 L585.8 456.99 L584.75 457.49 L583.69 457.99 L582.6 458.49 L581.51 458.99 L580.41 459.49 L579.32 459.99 L578.24 460.49 L577.19 460.99 L576.17 461.49 L575.18 461.99 L574.21 462.49 L573.25 462.99 L572.3 463.49 L571.37 463.99 L570.44 464.49 L569.53 464.99 L568.62 465.49 L567.72 465.99 L566.83 466.49 L565.95 466.99 L565.09 467.49 L564.24 467.99 L563.39 468.49 L562.55 468.99 L561.71 469.49 L560.86 469.99 L560.01 470.49 L559.15 470.99 L558.27 471.49 L557.38 471.99 L556.49 472.49 L555.58 472.99 L554.67 473.49 L553.75 473.99 L552.83 474.49 L551.91 474.99 L551 475.49 L550.09 475.99 L549.18 476.49 L548.25 476.99 L547.31 477.49 L546.36 477.99 L545.43 478.49 L544.52 478.99 L543.66 479.49 L542.85 479.99 L542.08 480.49 L541.28 480.99 L540.56 481.49 L539.98 481.99 L539.62 482.49 L539.34 482.99 L539.15 483.49 L539.12 483.99 L539.27 484.49 L539.56 484.99 L539.94 485.49 L540.39 485.99 L540.97 486.49 L541.85 486.99 L542.94 487.49 L544.15 487.99 L545.4 488.49 L546.68 488.99 L548.11 489.49 L549.66 489.99 L551.27 490.49 L552.91 490.99 L554.55 491.49 L556.24 491.99 L557.99 492.49 L559.77 492.99 L561.56 493.49 L563.34 493.99 L565.1 494.49 L566.88 494.99 L568.67 495.49 L570.46 495.99 L572.21 496.49 L573.9 496.99 L575.53 497.49 L577.11 497.99 L578.66 498.49 L580.16 498.99 L581.63 499.49 L583.04 499.99 L584.41 500.49 L585.76 500.99 L587.08 501.49 L588.36 501.99 L589.57 502.49 L590.7 502.99 L591.74 503.49 L592.73 503.99 L593.69 504.49 L594.58 504.99 L595.4 505.49 L596.13 505.99 L596.77 506.49 L597.37 506.99 L597.92 507.49 L598.42 507.99 L598.87 508.49 L599.27 508.99 L599.6 509.49 L599.93 509.99 L600.23 510.49 L600.49 510.99 L600.71 511.49 L600.86 511.99 L600.96 512.49 L601.04 512.99 L601.12 513.49 L601.19 513.99 L601.26 514.49 L601.32 514.99 L601.37 515.49 L601.41 515.99 L601.45 516.49 L601.47 516.99 L601.49 517.49 L601.5 517.99 L601.5 518.15 L601.5 518.15 L601.5 517.99 L601.51 517.49 L601.53 516.99 L601.55 516.49 L601.59 515.99 L601.63 515.49 L601.68 514.99 L601.74 514.49 L601.81 513.99 L601.88 513.49 L601.96 512.99 L602.04 512.49 L602.14 511.99 L602.29 511.49 L602.51 510.99 L602.77 510.49 L603.07 509.99 L603.4 509.49 L603.73 508.99 L604.13 508.49 L604.58 507.99 L605.08 507.49 L605.63 506.99 L606.23 506.49 L606.87 505.99 L607.6 505.49 L608.42 504.99 L609.31 504.49 L610.27 503.99 L611.26 503.49 L612.3 502.99 L613.43 502.49 L614.64 501.99 L615.92 501.49 L617.24 500.99 L618.59 500.49 L619.96 499.99 L621.37 499.49 L622.84 498.99 L624.34 498.49 L625.89 497.99 L627.47 497.49 L629.1 496.99 L630.79 496.49 L632.54 495.99 L634.33 495.49 L636.12 494.99 L637.9 494.49 L639.66 493.99 L641.44 493.49 L643.23 492.99 L645.01 492.49 L646.76 491.99 L648.45 491.49 L650.09 490.99 L651.73 490.49 L653.34 489.99 L654.89 489.49 L656.32 488.99 L657.6 488.49 L658.85 487.99 L660.06 487.49 L661.15 486.99 L662.03 486.49 L662.61 485.99 L663.06 485.49 L663.44 484.99 L663.73 484.49 L663.88 483.99 L663.85 483.49 L663.66 482.99 L663.38 482.49 L663.02 481.99 L662.44 481.49 L661.72 480.99 L660.92 480.49 L660.15 479.99 L659.34 479.49 L658.48 478.99 L657.57 478.49 L656.64 477.99 L655.69 477.49 L654.75 476.99 L653.82 476.49 L652.91 475.99 L652 475.49 L651.09 474.99 L650.17 474.49 L649.25 473.99 L648.33 473.49 L647.42 472.99 L646.51 472.49 L645.62 471.99 L644.73 471.49 L643.85 470.99 L642.99 470.49 L642.14 469.99 L641.29 469.49 L640.45 468.99 L639.61 468.49 L638.76 467.99 L637.91 467.49 L637.05 466.99 L636.17 466.49 L635.28 465.99 L634.38 465.49 L633.47 464.99 L632.56 464.49 L631.63 463.99 L630.7 463.49 L629.75 462.99 L628.79 462.49 L627.82 461.99 L626.83 461.49 L625.81 460.99 L624.76 460.49 L623.68 459.99 L622.59 459.49 L621.49 458.99 L620.4 458.49 L619.31 457.99 L618.25 457.49 L617.2 456.99 L616.12 456.49 L615.02 455.99 L613.93 455.49 L612.88 454.99 L611.9 454.49 L611.02 453.99 L610.25 453.49 L609.57 452.99 L608.93 452.49 L608.32 451.99 L607.74 451.49 L607.21 450.99 L606.73 450.49 L606.29 449.99 L605.89 449.49 L605.55 448.99 L605.23 448.49 L604.93 447.99 L604.68 447.49 L604.47 446.99 L604.31 446.49 L604.19 445.99 L604.08 445.49 L603.99 444.99 L603.91 444.49 L603.85 443.99 L603.81 443.49 L603.78 442.99 L603.75 442.49 L603.73 441.99 L603.71 441.49 L603.69 440.99 L603.68 440.49 L603.67 439.99 L603.66 439.49 L603.65 438.99 L603.64 438.49 L603.63 437.99 L603.63 437.49 L603.62 436.99 L603.61 436.49 L603.61 435.99 L603.6 435.49 L603.59 434.99 L603.59 434.49 L603.58 433.99 L603.57 433.49 L603.57 432.99 L603.56 432.49 L603.56 431.99 L603.55 431.49 L603.54 430.99 L603.54 430.49 L603.53 429.99 L603.52 429.49 L603.5 428.99 L603.49 428.49 L603.47 427.99 L603.45 427.49 L603.42 426.99 L603.39 426.49 L603.36 425.99 L603.33 425.49 L603.3 424.99 L603.26 424.49 L603.21 423.99 L603.15 423.49 L603.09 422.99 L603.03 422.49 L602.96 421.99 L602.89 421.49 L602.81 420.99 L602.73 420.49 L602.64 419.99 L602.55 419.49 L602.45 418.99 L602.35 418.49 L602.26 417.99 L602.18 417.49 L602.09 416.99 L602.01 416.49 L601.94 415.99 L601.86 415.49 L601.78 414.99 L601.71 414.49 L601.64 413.99 L601.57 413.49 L601.5 412.99 Z" fill="#882255"/>
<line class="w" x1="462.4" y1="437.4" x2="462.4" y2="465.65"/>
<line class="w" x1="462.4" y1="484.65" x2="462.4" y2="503.2"/>
<rect class="w" x="455.74" y="465.65" width="13.31" height="19" fill="#fff"/>
<line class="md" x1="455.74" y1="476.6" x2="469.06" y2="476.6"/>
<circle class="o" cx="601.5" cy="426.6" r="1.8"/>
<circle class="o" cx="601.5" cy="435.7" r="1.8"/>
<circle class="o" cx="601.5" cy="443.9" r="1.8"/>
<line class="w" x1="601.5" y1="453.5" x2="601.5" y2="470.7"/>
<line class="w" x1="601.5" y1="488.3" x2="601.5" y2="504.7"/>
<rect class="w" x="594.84" y="470.7" width="13.31" height="17.6" fill="#fff"/>
<line class="md" x1="594.84" y1="480.6" x2="608.16" y2="480.6"/>
</g>
<rect class="b" x="379.5" y="408.5" width="305.1" height="114.5" fill="none"/>
<line class="t" x1="377" y1="522.8" x2="379.5" y2="522.8"/>
<text class="a" x="376.2" y="525.4" text-anchor="end">0</text>
<line class="t" x1="377" y1="494.7" x2="379.5" y2="494.7"/>
<text class="a" x="376.2" y="497.3" text-anchor="end">1</text>
<line class="t" x1="377" y1="466.6" x2="379.5" y2="466.6"/>
<text class="a" x="376.2" y="469.2" text-anchor="end">2</text>
<line class="t" x1="377" y1="438.5" x2="379.5" y2="438.5"/>
<text class="a" x="376.2" y="441.1" text-anchor="end">3</text>
<line class="t" x1="377" y1="410.4" x2="379.5" y2="410.4"/>
<text class="a" x="376.2" y="413" text-anchor="end">4</text>
<line class="t" x1="462.4" y1="523" x2="462.4" y2="525.5"/>
<text class="a" x="462.4" y="532.9" text-anchor="middle">No delirium</text>
<line class="t" x1="601.5" y1="523" x2="601.5" y2="525.5"/>
<text class="a" x="601.5" y="532.9" text-anchor="middle">Delirium</text>
<text transform="translate(349.4 465.75) rotate(-90)" text-anchor="middle" fill="#000">TIMP−4 ng/mL</text>
</svg>
</body>
</html>
